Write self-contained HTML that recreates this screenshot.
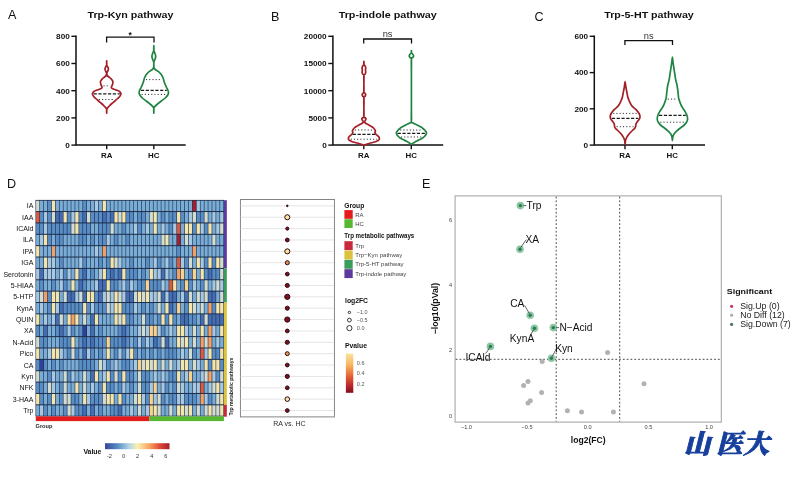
<!DOCTYPE html><html><head><meta charset="utf-8"><title>Trp pathways figure</title>
<style>html,body{margin:0;padding:0;background:#fff}body{width:800px;height:477px;overflow:hidden}svg{display:block;filter:blur(0.35px)}text{font-family:"Liberation Sans", sans-serif}</style></head><body>
<svg width="800" height="477" viewBox="0 0 800 477">
<rect width="800" height="477" fill="#fff"/>
<text x="8.00" y="18.60" font-size="12.60" text-anchor="start" font-weight="normal" fill="#111" >A</text>
<text x="87.50" y="17.6" font-size="9.9" font-weight="bold" fill="#111" textLength="86.00" lengthAdjust="spacingAndGlyphs">Trp-Kyn pathway</text>
<path d="M76.00 35.60 V145.10 H185.70" fill="none" stroke="#111" stroke-width="1.5"/>
<line x1="71.40" y1="36.30" x2="76.00" y2="36.30" stroke="#111" stroke-width="1.4"/>
<text x="0.00" y="39.20" font-size="7.9" font-weight="bold" text-anchor="end" fill="#111" transform="translate(69.80,0) scale(1.04,1) translate(0.00,0)">800</text>
<line x1="71.40" y1="63.50" x2="76.00" y2="63.50" stroke="#111" stroke-width="1.4"/>
<text x="0.00" y="66.40" font-size="7.9" font-weight="bold" text-anchor="end" fill="#111" transform="translate(69.80,0) scale(1.04,1) translate(0.00,0)">600</text>
<line x1="71.40" y1="90.70" x2="76.00" y2="90.70" stroke="#111" stroke-width="1.4"/>
<text x="0.00" y="93.60" font-size="7.9" font-weight="bold" text-anchor="end" fill="#111" transform="translate(69.80,0) scale(1.04,1) translate(0.00,0)">400</text>
<line x1="71.40" y1="117.90" x2="76.00" y2="117.90" stroke="#111" stroke-width="1.4"/>
<text x="0.00" y="120.80" font-size="7.9" font-weight="bold" text-anchor="end" fill="#111" transform="translate(69.80,0) scale(1.04,1) translate(0.00,0)">200</text>
<line x1="71.40" y1="145.10" x2="76.00" y2="145.10" stroke="#111" stroke-width="1.4"/>
<text x="0.00" y="148.00" font-size="7.9" font-weight="bold" text-anchor="end" fill="#111" transform="translate(69.80,0) scale(1.04,1) translate(0.00,0)">0</text>
<line x1="106.70" y1="145.10" x2="106.70" y2="149.30" stroke="#111" stroke-width="1.4"/>
<text x="106.70" y="158.30" font-size="7.90" text-anchor="middle" font-weight="bold" fill="#111" >RA</text>
<line x1="153.80" y1="145.10" x2="153.80" y2="149.30" stroke="#111" stroke-width="1.4"/>
<text x="153.80" y="158.30" font-size="7.90" text-anchor="middle" font-weight="bold" fill="#111" >HC</text>
<path d="M106.60 42.40 V37.10 H154.00 V42.40" fill="none" stroke="#111" stroke-width="1.3"/>
<text x="130.25" y="37.60" font-size="8.50" text-anchor="middle" font-weight="bold" fill="#111" >*</text>
<path d="M106.70 60.80 C106.70 60.80 106.52 63.97 106.70 65.00 C106.88 66.03 107.52 66.35 107.80 67.00 C108.08 67.65 108.40 68.23 108.40 68.90 C108.40 69.57 108.05 70.32 107.80 71.00 C107.55 71.68 107.00 72.25 106.90 73.00 C106.80 73.75 106.87 74.83 107.20 75.50 C107.53 76.17 108.25 76.45 108.90 77.00 C109.55 77.55 110.43 78.05 111.10 78.80 C111.77 79.55 112.67 80.55 112.90 81.50 C113.13 82.45 112.77 83.52 112.50 84.50 C112.23 85.48 111.27 86.68 111.30 87.40 C111.33 88.12 111.88 88.37 112.70 88.80 C113.52 89.23 115.07 89.55 116.20 90.00 C117.33 90.45 118.70 90.87 119.50 91.50 C120.30 92.13 120.93 93.02 121.00 93.80 C121.07 94.58 120.45 95.42 119.90 96.20 C119.35 96.98 118.53 97.70 117.70 98.50 C116.87 99.30 115.87 100.17 114.90 101.00 C113.93 101.83 112.83 102.67 111.90 103.50 C110.97 104.33 110.05 105.25 109.30 106.00 C108.55 106.75 107.83 107.33 107.40 108.00 C106.97 108.67 106.82 109.13 106.70 110.00 C106.58 110.87 106.70 113.20 106.70 113.20 C106.70 113.20 106.82 110.87 106.70 110.00 C106.58 109.13 106.43 108.67 106.00 108.00 C105.57 107.33 104.85 106.75 104.10 106.00 C103.35 105.25 102.43 104.33 101.50 103.50 C100.57 102.67 99.47 101.83 98.50 101.00 C97.53 100.17 96.53 99.30 95.70 98.50 C94.87 97.70 94.05 96.98 93.50 96.20 C92.95 95.42 92.33 94.58 92.40 93.80 C92.47 93.02 93.10 92.13 93.90 91.50 C94.70 90.87 96.07 90.45 97.20 90.00 C98.33 89.55 99.88 89.23 100.70 88.80 C101.52 88.37 102.07 88.12 102.10 87.40 C102.13 86.68 101.17 85.48 100.90 84.50 C100.63 83.52 100.27 82.45 100.50 81.50 C100.73 80.55 101.63 79.55 102.30 78.80 C102.97 78.05 103.85 77.55 104.50 77.00 C105.15 76.45 105.87 76.17 106.20 75.50 C106.53 74.83 106.60 73.75 106.50 73.00 C106.40 72.25 105.85 71.68 105.60 71.00 C105.35 70.32 105.00 69.57 105.00 68.90 C105.00 68.23 105.32 67.65 105.60 67.00 C105.88 66.35 106.52 66.03 106.70 65.00 C106.88 63.97 106.70 60.80 106.70 60.80Z" fill="#fff" stroke="#a31f27" stroke-width="1.70" stroke-linejoin="round"/>
<line x1="93.60" y1="93.80" x2="119.80" y2="93.80" stroke="#1a1a1a" stroke-width="1.3" stroke-dasharray="3.2 1.6"/>
<line x1="103.44" y1="85.80" x2="109.96" y2="85.80" stroke="#2a2a2a" stroke-width="1.0" stroke-dasharray="1.1 2.1"/>
<line x1="98.82" y1="99.50" x2="114.58" y2="99.50" stroke="#2a2a2a" stroke-width="1.0" stroke-dasharray="1.1 2.1"/>
<path d="M153.80 45.70 C153.80 45.70 153.60 49.20 153.80 50.50 C154.00 51.80 154.68 52.52 155.00 53.50 C155.32 54.48 155.70 55.43 155.70 56.40 C155.70 57.37 155.30 58.37 155.00 59.30 C154.70 60.23 154.10 60.88 153.90 62.00 C153.70 63.12 153.72 64.92 153.80 66.00 C153.88 67.08 154.03 67.83 154.40 68.50 C154.77 69.17 155.27 69.45 156.00 70.00 C156.73 70.55 157.92 71.05 158.80 71.80 C159.68 72.55 160.58 73.47 161.30 74.50 C162.02 75.53 162.55 76.58 163.10 78.00 C163.65 79.42 164.07 81.50 164.60 83.00 C165.13 84.50 165.77 85.83 166.30 87.00 C166.83 88.17 167.43 89.08 167.80 90.00 C168.17 90.92 168.50 91.67 168.50 92.50 C168.50 93.33 168.33 94.08 167.80 95.00 C167.27 95.92 166.37 97.00 165.30 98.00 C164.23 99.00 162.68 100.00 161.40 101.00 C160.12 102.00 158.70 103.08 157.60 104.00 C156.50 104.92 155.43 105.75 154.80 106.50 C154.17 107.25 153.97 107.38 153.80 108.50 C153.63 109.62 153.80 113.20 153.80 113.20 C153.80 113.20 153.97 109.62 153.80 108.50 C153.63 107.38 153.43 107.25 152.80 106.50 C152.17 105.75 151.10 104.92 150.00 104.00 C148.90 103.08 147.48 102.00 146.20 101.00 C144.92 100.00 143.37 99.00 142.30 98.00 C141.23 97.00 140.33 95.92 139.80 95.00 C139.27 94.08 139.10 93.33 139.10 92.50 C139.10 91.67 139.43 90.92 139.80 90.00 C140.17 89.08 140.77 88.17 141.30 87.00 C141.83 85.83 142.47 84.50 143.00 83.00 C143.53 81.50 143.95 79.42 144.50 78.00 C145.05 76.58 145.58 75.53 146.30 74.50 C147.02 73.47 147.92 72.55 148.80 71.80 C149.68 71.05 150.87 70.55 151.60 70.00 C152.33 69.45 152.83 69.17 153.20 68.50 C153.57 67.83 153.72 67.08 153.80 66.00 C153.88 64.92 153.90 63.12 153.70 62.00 C153.50 60.88 152.90 60.23 152.60 59.30 C152.30 58.37 151.90 57.37 151.90 56.40 C151.90 55.43 152.28 54.48 152.60 53.50 C152.92 52.52 153.60 51.80 153.80 50.50 C154.00 49.20 153.80 45.70 153.80 45.70Z" fill="#fff" stroke="#1f8442" stroke-width="1.70" stroke-linejoin="round"/>
<line x1="140.92" y1="90.30" x2="166.68" y2="90.30" stroke="#1a1a1a" stroke-width="1.3" stroke-dasharray="3.2 1.6"/>
<line x1="146.02" y1="79.60" x2="161.58" y2="79.60" stroke="#2a2a2a" stroke-width="1.0" stroke-dasharray="1.1 2.1"/>
<line x1="141.63" y1="94.40" x2="165.97" y2="94.40" stroke="#2a2a2a" stroke-width="1.0" stroke-dasharray="1.1 2.1"/>
<text x="271.00" y="21.00" font-size="12.60" text-anchor="start" font-weight="normal" fill="#111" >B</text>
<text x="338.70" y="17.6" font-size="9.9" font-weight="bold" fill="#111" textLength="98.10" lengthAdjust="spacingAndGlyphs">Trp-indole pathway</text>
<path d="M332.90 35.60 V145.10 H443.20" fill="none" stroke="#111" stroke-width="1.5"/>
<line x1="328.30" y1="36.30" x2="332.90" y2="36.30" stroke="#111" stroke-width="1.4"/>
<text x="0.00" y="39.20" font-size="7.9" font-weight="bold" text-anchor="end" fill="#111" transform="translate(326.70,0) scale(1.04,1) translate(0.00,0)">20000</text>
<line x1="328.30" y1="63.50" x2="332.90" y2="63.50" stroke="#111" stroke-width="1.4"/>
<text x="0.00" y="66.40" font-size="7.9" font-weight="bold" text-anchor="end" fill="#111" transform="translate(326.70,0) scale(1.04,1) translate(0.00,0)">15000</text>
<line x1="328.30" y1="90.70" x2="332.90" y2="90.70" stroke="#111" stroke-width="1.4"/>
<text x="0.00" y="93.60" font-size="7.9" font-weight="bold" text-anchor="end" fill="#111" transform="translate(326.70,0) scale(1.04,1) translate(0.00,0)">10000</text>
<line x1="328.30" y1="117.90" x2="332.90" y2="117.90" stroke="#111" stroke-width="1.4"/>
<text x="0.00" y="120.80" font-size="7.9" font-weight="bold" text-anchor="end" fill="#111" transform="translate(326.70,0) scale(1.04,1) translate(0.00,0)">5000</text>
<line x1="328.30" y1="145.10" x2="332.90" y2="145.10" stroke="#111" stroke-width="1.4"/>
<text x="0.00" y="148.00" font-size="7.9" font-weight="bold" text-anchor="end" fill="#111" transform="translate(326.70,0) scale(1.04,1) translate(0.00,0)">0</text>
<line x1="363.80" y1="145.10" x2="363.80" y2="149.30" stroke="#111" stroke-width="1.4"/>
<text x="363.80" y="158.30" font-size="7.90" text-anchor="middle" font-weight="bold" fill="#111" >RA</text>
<line x1="411.30" y1="145.10" x2="411.30" y2="149.30" stroke="#111" stroke-width="1.4"/>
<text x="411.30" y="158.30" font-size="7.90" text-anchor="middle" font-weight="bold" fill="#111" >HC</text>
<path d="M363.70 43.50 V39.00 H411.50 V43.50" fill="none" stroke="#111" stroke-width="1.3"/>
<text x="387.55" y="36.70" font-size="9.30" text-anchor="middle" font-weight="normal" fill="#333" >ns</text>
<path d="M363.90 61.40 C363.90 61.40 363.70 63.73 363.90 64.50 C364.10 65.27 364.80 65.50 365.10 66.00 C365.40 66.50 365.63 66.83 365.70 67.50 C365.77 68.17 365.50 69.17 365.50 70.00 C365.50 70.83 365.77 71.83 365.70 72.50 C365.63 73.17 365.40 73.50 365.10 74.00 C364.80 74.50 364.10 73.83 363.90 75.50 C363.70 77.17 363.90 81.25 363.90 84.00 C363.90 86.75 363.70 90.43 363.90 92.00 C364.10 93.57 364.80 92.93 365.10 93.40 C365.40 93.87 365.70 94.33 365.70 94.80 C365.70 95.27 365.40 95.73 365.10 96.20 C364.80 96.67 364.10 95.63 363.90 97.60 C363.70 99.57 363.90 104.83 363.90 108.00 C363.90 111.17 363.68 115.00 363.90 116.60 C364.12 118.20 364.85 117.22 365.20 117.60 C365.55 117.98 365.97 118.45 366.00 118.90 C366.03 119.35 365.63 119.85 365.40 120.30 C365.17 120.75 364.65 121.18 364.60 121.60 C364.55 122.02 364.68 122.40 365.10 122.80 C365.52 123.20 366.47 123.63 367.10 124.00 C367.73 124.37 368.17 124.58 368.90 125.00 C369.63 125.42 370.73 126.00 371.50 126.50 C372.27 127.00 372.97 127.50 373.50 128.00 C374.03 128.50 374.38 129.00 374.70 129.50 C375.02 130.00 375.35 130.42 375.40 131.00 C375.45 131.58 374.78 132.33 375.00 133.00 C375.22 133.67 376.12 134.42 376.70 135.00 C377.28 135.58 378.05 136.00 378.50 136.50 C378.95 137.00 379.35 137.42 379.40 138.00 C379.45 138.58 379.25 139.47 378.80 140.00 C378.35 140.53 377.55 140.83 376.70 141.20 C375.85 141.57 374.83 141.87 373.70 142.20 C372.57 142.53 371.10 142.87 369.90 143.20 C368.70 143.53 367.50 143.88 366.50 144.20 C365.50 144.52 364.77 145.10 363.90 145.10 C363.03 145.10 362.30 144.52 361.30 144.20 C360.30 143.88 359.10 143.53 357.90 143.20 C356.70 142.87 355.23 142.53 354.10 142.20 C352.97 141.87 351.95 141.57 351.10 141.20 C350.25 140.83 349.45 140.53 349.00 140.00 C348.55 139.47 348.35 138.58 348.40 138.00 C348.45 137.42 348.85 137.00 349.30 136.50 C349.75 136.00 350.52 135.58 351.10 135.00 C351.68 134.42 352.58 133.67 352.80 133.00 C353.02 132.33 352.35 131.58 352.40 131.00 C352.45 130.42 352.78 130.00 353.10 129.50 C353.42 129.00 353.77 128.50 354.30 128.00 C354.83 127.50 355.53 127.00 356.30 126.50 C357.07 126.00 358.17 125.42 358.90 125.00 C359.63 124.58 360.07 124.37 360.70 124.00 C361.33 123.63 362.28 123.20 362.70 122.80 C363.12 122.40 363.25 122.02 363.20 121.60 C363.15 121.18 362.63 120.75 362.40 120.30 C362.17 119.85 361.77 119.35 361.80 118.90 C361.83 118.45 362.25 117.98 362.60 117.60 C362.95 117.22 363.68 118.20 363.90 116.60 C364.12 115.00 363.90 111.17 363.90 108.00 C363.90 104.83 364.10 99.57 363.90 97.60 C363.70 95.63 363.00 96.67 362.70 96.20 C362.40 95.73 362.10 95.27 362.10 94.80 C362.10 94.33 362.40 93.87 362.70 93.40 C363.00 92.93 363.70 93.57 363.90 92.00 C364.10 90.43 363.90 86.75 363.90 84.00 C363.90 81.25 364.10 77.17 363.90 75.50 C363.70 73.83 363.00 74.50 362.70 74.00 C362.40 73.50 362.17 73.17 362.10 72.50 C362.03 71.83 362.30 70.83 362.30 70.00 C362.30 69.17 362.03 68.17 362.10 67.50 C362.17 66.83 362.40 66.50 362.70 66.00 C363.00 65.50 363.70 65.27 363.90 64.50 C364.10 63.73 363.90 61.40 363.90 61.40Z" fill="#fff" stroke="#a31f27" stroke-width="1.70" stroke-linejoin="round"/>
<line x1="352.81" y1="134.40" x2="374.99" y2="134.40" stroke="#1a1a1a" stroke-width="1.3" stroke-dasharray="3.2 1.6"/>
<line x1="354.87" y1="130.00" x2="372.93" y2="130.00" stroke="#2a2a2a" stroke-width="1.0" stroke-dasharray="1.1 2.1"/>
<line x1="350.76" y1="139.20" x2="377.04" y2="139.20" stroke="#2a2a2a" stroke-width="1.0" stroke-dasharray="1.1 2.1"/>
<path d="M411.40 50.60 C411.40 50.60 411.17 52.20 411.40 52.80 C411.63 53.40 412.43 53.68 412.80 54.20 C413.17 54.72 413.60 55.33 413.60 55.90 C413.60 56.47 413.17 57.08 412.80 57.60 C412.43 58.12 411.63 56.93 411.40 59.00 C411.17 61.07 411.40 64.83 411.40 70.00 C411.40 75.17 411.40 83.33 411.40 90.00 C411.40 96.67 411.40 104.78 411.40 110.00 C411.40 115.22 411.13 119.13 411.40 121.30 C411.67 123.47 412.08 122.38 413.00 123.00 C413.92 123.62 415.58 124.33 416.90 125.00 C418.22 125.67 419.88 126.42 420.90 127.00 C421.92 127.58 422.38 128.00 423.00 128.50 C423.62 129.00 424.13 129.50 424.60 130.00 C425.07 130.50 425.48 131.00 425.80 131.50 C426.12 132.00 426.52 132.42 426.50 133.00 C426.48 133.58 426.05 134.42 425.70 135.00 C425.35 135.58 424.92 136.00 424.40 136.50 C423.88 137.00 423.35 137.50 422.60 138.00 C421.85 138.50 420.85 139.00 419.90 139.50 C418.95 140.00 417.78 140.55 416.90 141.00 C416.02 141.45 415.25 141.83 414.60 142.20 C413.95 142.57 413.53 142.85 413.00 143.20 C412.47 143.55 411.93 144.30 411.40 144.30 C410.87 144.30 410.33 143.55 409.80 143.20 C409.27 142.85 408.85 142.57 408.20 142.20 C407.55 141.83 406.78 141.45 405.90 141.00 C405.02 140.55 403.85 140.00 402.90 139.50 C401.95 139.00 400.95 138.50 400.20 138.00 C399.45 137.50 398.92 137.00 398.40 136.50 C397.88 136.00 397.45 135.58 397.10 135.00 C396.75 134.42 396.32 133.58 396.30 133.00 C396.28 132.42 396.68 132.00 397.00 131.50 C397.32 131.00 397.73 130.50 398.20 130.00 C398.67 129.50 399.18 129.00 399.80 128.50 C400.42 128.00 400.88 127.58 401.90 127.00 C402.92 126.42 404.58 125.67 405.90 125.00 C407.22 124.33 408.88 123.62 409.80 123.00 C410.72 122.38 411.13 123.47 411.40 121.30 C411.67 119.13 411.40 115.22 411.40 110.00 C411.40 104.78 411.40 96.67 411.40 90.00 C411.40 83.33 411.40 75.17 411.40 70.00 C411.40 64.83 411.63 61.07 411.40 59.00 C411.17 56.93 410.37 58.12 410.00 57.60 C409.63 57.08 409.20 56.47 409.20 55.90 C409.20 55.33 409.63 54.72 410.00 54.20 C410.37 53.68 411.17 53.40 411.40 52.80 C411.63 52.20 411.40 50.60 411.40 50.60Z" fill="#fff" stroke="#1f8442" stroke-width="1.70" stroke-linejoin="round"/>
<line x1="397.66" y1="133.40" x2="425.14" y2="133.40" stroke="#1a1a1a" stroke-width="1.3" stroke-dasharray="3.2 1.6"/>
<line x1="400.20" y1="130.00" x2="422.60" y2="130.00" stroke="#2a2a2a" stroke-width="1.0" stroke-dasharray="1.1 2.1"/>
<line x1="401.00" y1="137.00" x2="421.80" y2="137.00" stroke="#2a2a2a" stroke-width="1.0" stroke-dasharray="1.1 2.1"/>
<text x="534.50" y="21.00" font-size="12.60" text-anchor="start" font-weight="normal" fill="#111" >C</text>
<text x="604.30" y="17.6" font-size="9.9" font-weight="bold" fill="#111" textLength="89.50" lengthAdjust="spacingAndGlyphs">Trp-5-HT pathway</text>
<path d="M594.30 35.60 V145.10 H705.00" fill="none" stroke="#111" stroke-width="1.5"/>
<line x1="589.70" y1="36.30" x2="594.30" y2="36.30" stroke="#111" stroke-width="1.4"/>
<text x="0.00" y="39.20" font-size="7.9" font-weight="bold" text-anchor="end" fill="#111" transform="translate(588.10,0) scale(1.04,1) translate(0.00,0)">600</text>
<line x1="589.70" y1="72.60" x2="594.30" y2="72.60" stroke="#111" stroke-width="1.4"/>
<text x="0.00" y="75.50" font-size="7.9" font-weight="bold" text-anchor="end" fill="#111" transform="translate(588.10,0) scale(1.04,1) translate(0.00,0)">400</text>
<line x1="589.70" y1="108.80" x2="594.30" y2="108.80" stroke="#111" stroke-width="1.4"/>
<text x="0.00" y="111.70" font-size="7.9" font-weight="bold" text-anchor="end" fill="#111" transform="translate(588.10,0) scale(1.04,1) translate(0.00,0)">200</text>
<line x1="589.70" y1="145.10" x2="594.30" y2="145.10" stroke="#111" stroke-width="1.4"/>
<text x="0.00" y="148.00" font-size="7.9" font-weight="bold" text-anchor="end" fill="#111" transform="translate(588.10,0) scale(1.04,1) translate(0.00,0)">0</text>
<line x1="625.00" y1="145.10" x2="625.00" y2="149.30" stroke="#111" stroke-width="1.4"/>
<text x="625.00" y="158.30" font-size="7.90" text-anchor="middle" font-weight="bold" fill="#111" >RA</text>
<line x1="672.30" y1="145.10" x2="672.30" y2="149.30" stroke="#111" stroke-width="1.4"/>
<text x="672.30" y="158.30" font-size="7.90" text-anchor="middle" font-weight="bold" fill="#111" >HC</text>
<path d="M624.90 45.00 V40.60 H672.50 V45.00" fill="none" stroke="#111" stroke-width="1.3"/>
<text x="648.65" y="38.50" font-size="9.30" text-anchor="middle" font-weight="normal" fill="#333" >ns</text>
<path d="M625.10 81.50 C625.30 81.50 625.47 84.53 625.70 86.00 C625.93 87.47 626.25 88.97 626.50 90.30 C626.75 91.63 626.95 92.75 627.20 94.00 C627.45 95.25 627.62 96.55 628.00 97.80 C628.38 99.05 628.90 100.23 629.50 101.50 C630.10 102.77 630.83 104.32 631.60 105.40 C632.37 106.48 633.25 107.17 634.10 108.00 C634.95 108.83 635.87 109.48 636.70 110.40 C637.53 111.32 638.55 112.45 639.10 113.50 C639.65 114.55 639.97 115.75 640.00 116.70 C640.03 117.65 639.75 118.37 639.30 119.20 C638.85 120.03 637.87 120.87 637.30 121.70 C636.73 122.53 636.18 123.37 635.90 124.20 C635.62 125.03 635.83 125.97 635.60 126.70 C635.37 127.43 635.03 127.97 634.50 128.60 C633.97 129.23 633.17 129.77 632.40 130.50 C631.63 131.23 630.65 132.17 629.90 133.00 C629.15 133.83 628.48 134.67 627.90 135.50 C627.32 136.33 626.80 137.15 626.40 138.00 C626.00 138.85 625.72 139.50 625.50 140.60 C625.28 141.70 625.23 144.60 625.10 144.60 C624.97 144.60 624.92 141.70 624.70 140.60 C624.48 139.50 624.20 138.85 623.80 138.00 C623.40 137.15 622.88 136.33 622.30 135.50 C621.72 134.67 621.05 133.83 620.30 133.00 C619.55 132.17 618.57 131.23 617.80 130.50 C617.03 129.77 616.23 129.23 615.70 128.60 C615.17 127.97 614.83 127.43 614.60 126.70 C614.37 125.97 614.58 125.03 614.30 124.20 C614.02 123.37 613.47 122.53 612.90 121.70 C612.33 120.87 611.35 120.03 610.90 119.20 C610.45 118.37 610.17 117.65 610.20 116.70 C610.23 115.75 610.55 114.55 611.10 113.50 C611.65 112.45 612.67 111.32 613.50 110.40 C614.33 109.48 615.25 108.83 616.10 108.00 C616.95 107.17 617.83 106.48 618.60 105.40 C619.37 104.32 620.10 102.77 620.70 101.50 C621.30 100.23 621.82 99.05 622.20 97.80 C622.58 96.55 622.75 95.25 623.00 94.00 C623.25 92.75 623.45 91.63 623.70 90.30 C623.95 88.97 624.27 87.47 624.50 86.00 C624.73 84.53 624.90 81.50 625.10 81.50Z" fill="#fff" stroke="#a31f27" stroke-width="1.70" stroke-linejoin="round"/>
<line x1="611.88" y1="118.40" x2="638.32" y2="118.40" stroke="#1a1a1a" stroke-width="1.3" stroke-dasharray="3.2 1.6"/>
<line x1="613.18" y1="113.40" x2="637.02" y2="113.40" stroke="#2a2a2a" stroke-width="1.0" stroke-dasharray="1.1 2.1"/>
<line x1="616.60" y1="126.70" x2="633.60" y2="126.70" stroke="#2a2a2a" stroke-width="1.0" stroke-dasharray="1.1 2.1"/>
<path d="M672.40 57.10 C672.60 57.10 672.77 60.23 673.00 62.00 C673.23 63.77 673.50 65.70 673.80 67.70 C674.10 69.70 674.47 71.90 674.80 74.00 C675.13 76.10 675.43 78.47 675.80 80.30 C676.17 82.13 676.67 83.33 677.00 85.00 C677.33 86.67 677.60 88.80 677.80 90.30 C678.00 91.80 678.07 92.75 678.20 94.00 C678.33 95.25 678.35 96.55 678.60 97.80 C678.85 99.05 679.27 100.23 679.70 101.50 C680.13 102.77 680.65 104.23 681.20 105.40 C681.75 106.57 682.35 107.45 683.00 108.50 C683.65 109.55 684.43 110.53 685.10 111.70 C685.77 112.87 686.58 114.25 687.00 115.50 C687.42 116.75 687.70 118.03 687.60 119.20 C687.50 120.37 687.05 121.45 686.40 122.50 C685.75 123.55 684.70 124.58 683.70 125.50 C682.70 126.42 681.45 127.17 680.40 128.00 C679.35 128.83 678.27 129.75 677.40 130.50 C676.53 131.25 675.80 131.87 675.20 132.50 C674.60 133.13 674.20 133.55 673.80 134.30 C673.40 135.05 673.03 135.95 672.80 137.00 C672.57 138.05 672.53 140.60 672.40 140.60 C672.27 140.60 672.23 138.05 672.00 137.00 C671.77 135.95 671.40 135.05 671.00 134.30 C670.60 133.55 670.20 133.13 669.60 132.50 C669.00 131.87 668.27 131.25 667.40 130.50 C666.53 129.75 665.45 128.83 664.40 128.00 C663.35 127.17 662.10 126.42 661.10 125.50 C660.10 124.58 659.05 123.55 658.40 122.50 C657.75 121.45 657.30 120.37 657.20 119.20 C657.10 118.03 657.38 116.75 657.80 115.50 C658.22 114.25 659.03 112.87 659.70 111.70 C660.37 110.53 661.15 109.55 661.80 108.50 C662.45 107.45 663.05 106.57 663.60 105.40 C664.15 104.23 664.67 102.77 665.10 101.50 C665.53 100.23 665.95 99.05 666.20 97.80 C666.45 96.55 666.47 95.25 666.60 94.00 C666.73 92.75 666.80 91.80 667.00 90.30 C667.20 88.80 667.47 86.67 667.80 85.00 C668.13 83.33 668.63 82.13 669.00 80.30 C669.37 78.47 669.67 76.10 670.00 74.00 C670.33 71.90 670.70 69.70 671.00 67.70 C671.30 65.70 671.57 63.77 671.80 62.00 C672.03 60.23 672.20 57.10 672.40 57.10Z" fill="#fff" stroke="#1f8442" stroke-width="1.70" stroke-linejoin="round"/>
<line x1="659.05" y1="115.40" x2="685.75" y2="115.40" stroke="#1a1a1a" stroke-width="1.3" stroke-dasharray="3.2 1.6"/>
<line x1="667.81" y1="99.10" x2="676.99" y2="99.10" stroke="#2a2a2a" stroke-width="1.0" stroke-dasharray="1.1 2.1"/>
<line x1="660.29" y1="122.20" x2="684.51" y2="122.20" stroke="#2a2a2a" stroke-width="1.0" stroke-dasharray="1.1 2.1"/>
<text x="7.00" y="188.00" font-size="12.60" text-anchor="start" font-weight="normal" fill="#111" >D</text>
<rect x="35.50" y="199.90" width="188.52" height="216.60" fill="#1d2d4a"/>
<text x="33.40" y="208.38" font-size="7.00" text-anchor="end" font-weight="normal" fill="#111" >IA</text>
<rect x="36.10" y="200.70" width="3.31" height="10.37" fill="#d2dccf"/>
<rect x="40.01" y="200.70" width="3.31" height="10.37" fill="#7aadd6"/>
<rect x="43.93" y="200.70" width="3.31" height="10.37" fill="#7aadd6"/>
<rect x="47.84" y="200.70" width="3.31" height="10.37" fill="#588dc5"/>
<rect x="51.76" y="200.70" width="3.31" height="10.37" fill="#f4e5aa"/>
<rect x="55.67" y="200.70" width="3.31" height="10.37" fill="#7aadd6"/>
<rect x="59.59" y="200.70" width="3.31" height="10.37" fill="#7aadd6"/>
<rect x="63.50" y="200.70" width="3.31" height="10.37" fill="#7aadd6"/>
<rect x="67.42" y="200.70" width="3.31" height="10.37" fill="#7aadd6"/>
<rect x="71.33" y="200.70" width="3.31" height="10.37" fill="#7aadd6"/>
<rect x="75.25" y="200.70" width="3.31" height="10.37" fill="#7aadd6"/>
<rect x="79.16" y="200.70" width="3.31" height="10.37" fill="#7aadd6"/>
<rect x="83.08" y="200.70" width="3.31" height="10.37" fill="#588dc5"/>
<rect x="86.99" y="200.70" width="3.31" height="10.37" fill="#7aadd6"/>
<rect x="90.91" y="200.70" width="3.31" height="10.37" fill="#7aadd6"/>
<rect x="94.83" y="200.70" width="3.31" height="10.37" fill="#a6c8e1"/>
<rect x="98.74" y="200.70" width="3.31" height="10.37" fill="#7aadd6"/>
<rect x="102.66" y="200.70" width="3.31" height="10.37" fill="#f4e5aa"/>
<rect x="106.57" y="200.70" width="3.31" height="10.37" fill="#7aadd6"/>
<rect x="110.48" y="200.70" width="3.31" height="10.37" fill="#7aadd6"/>
<rect x="114.40" y="200.70" width="3.31" height="10.37" fill="#7aadd6"/>
<rect x="118.31" y="200.70" width="3.31" height="10.37" fill="#7aadd6"/>
<rect x="122.23" y="200.70" width="3.31" height="10.37" fill="#7aadd6"/>
<rect x="126.14" y="200.70" width="3.31" height="10.37" fill="#7aadd6"/>
<rect x="130.06" y="200.70" width="3.31" height="10.37" fill="#7aadd6"/>
<rect x="133.98" y="200.70" width="3.31" height="10.37" fill="#7aadd6"/>
<rect x="137.89" y="200.70" width="3.31" height="10.37" fill="#7aadd6"/>
<rect x="141.81" y="200.70" width="3.31" height="10.37" fill="#7aadd6"/>
<rect x="145.72" y="200.70" width="3.31" height="10.37" fill="#7aadd6"/>
<rect x="149.63" y="200.70" width="3.31" height="10.37" fill="#7aadd6"/>
<rect x="153.55" y="200.70" width="3.31" height="10.37" fill="#7aadd6"/>
<rect x="157.47" y="200.70" width="3.31" height="10.37" fill="#7aadd6"/>
<rect x="161.38" y="200.70" width="3.31" height="10.37" fill="#7aadd6"/>
<rect x="165.30" y="200.70" width="3.31" height="10.37" fill="#7aadd6"/>
<rect x="169.21" y="200.70" width="3.31" height="10.37" fill="#7aadd6"/>
<rect x="173.12" y="200.70" width="3.31" height="10.37" fill="#7aadd6"/>
<rect x="177.04" y="200.70" width="3.31" height="10.37" fill="#7aadd6"/>
<rect x="180.95" y="200.70" width="3.31" height="10.37" fill="#7aadd6"/>
<rect x="184.87" y="200.70" width="3.31" height="10.37" fill="#7aadd6"/>
<rect x="188.79" y="200.70" width="3.31" height="10.37" fill="#7aadd6"/>
<rect x="192.70" y="200.70" width="3.31" height="10.37" fill="#a51e2e"/>
<rect x="196.62" y="200.70" width="3.31" height="10.37" fill="#a6c8e1"/>
<rect x="200.53" y="200.70" width="3.31" height="10.37" fill="#7aadd6"/>
<rect x="204.44" y="200.70" width="3.31" height="10.37" fill="#7aadd6"/>
<rect x="208.36" y="200.70" width="3.31" height="10.37" fill="#7aadd6"/>
<rect x="212.28" y="200.70" width="3.31" height="10.37" fill="#7aadd6"/>
<rect x="216.19" y="200.70" width="3.31" height="10.37" fill="#7aadd6"/>
<rect x="220.11" y="200.70" width="3.31" height="10.37" fill="#7aadd6"/>
<text x="33.40" y="219.75" font-size="7.00" text-anchor="end" font-weight="normal" fill="#111" >IAA</text>
<rect x="36.10" y="212.07" width="3.31" height="10.37" fill="#dc5a3e"/>
<rect x="40.01" y="212.07" width="3.31" height="10.37" fill="#588dc5"/>
<rect x="43.93" y="212.07" width="3.31" height="10.37" fill="#a6c8e1"/>
<rect x="47.84" y="212.07" width="3.31" height="10.37" fill="#588dc5"/>
<rect x="51.76" y="212.07" width="3.31" height="10.37" fill="#d2dccf"/>
<rect x="55.67" y="212.07" width="3.31" height="10.37" fill="#456db4"/>
<rect x="59.59" y="212.07" width="3.31" height="10.37" fill="#456db4"/>
<rect x="63.50" y="212.07" width="3.31" height="10.37" fill="#f4e5aa"/>
<rect x="67.42" y="212.07" width="3.31" height="10.37" fill="#588dc5"/>
<rect x="71.33" y="212.07" width="3.31" height="10.37" fill="#a6c8e1"/>
<rect x="75.25" y="212.07" width="3.31" height="10.37" fill="#f4e5aa"/>
<rect x="79.16" y="212.07" width="3.31" height="10.37" fill="#588dc5"/>
<rect x="83.08" y="212.07" width="3.31" height="10.37" fill="#456db4"/>
<rect x="86.99" y="212.07" width="3.31" height="10.37" fill="#d2dccf"/>
<rect x="90.91" y="212.07" width="3.31" height="10.37" fill="#588dc5"/>
<rect x="94.83" y="212.07" width="3.31" height="10.37" fill="#588dc5"/>
<rect x="98.74" y="212.07" width="3.31" height="10.37" fill="#588dc5"/>
<rect x="102.66" y="212.07" width="3.31" height="10.37" fill="#456db4"/>
<rect x="106.57" y="212.07" width="3.31" height="10.37" fill="#588dc5"/>
<rect x="110.48" y="212.07" width="3.31" height="10.37" fill="#456db4"/>
<rect x="114.40" y="212.07" width="3.31" height="10.37" fill="#f4e5aa"/>
<rect x="118.31" y="212.07" width="3.31" height="10.37" fill="#d2dccf"/>
<rect x="122.23" y="212.07" width="3.31" height="10.37" fill="#f4e5aa"/>
<rect x="126.14" y="212.07" width="3.31" height="10.37" fill="#588dc5"/>
<rect x="130.06" y="212.07" width="3.31" height="10.37" fill="#588dc5"/>
<rect x="133.98" y="212.07" width="3.31" height="10.37" fill="#7aadd6"/>
<rect x="137.89" y="212.07" width="3.31" height="10.37" fill="#588dc5"/>
<rect x="141.81" y="212.07" width="3.31" height="10.37" fill="#588dc5"/>
<rect x="145.72" y="212.07" width="3.31" height="10.37" fill="#7aadd6"/>
<rect x="149.63" y="212.07" width="3.31" height="10.37" fill="#d2dccf"/>
<rect x="153.55" y="212.07" width="3.31" height="10.37" fill="#f4e5aa"/>
<rect x="157.47" y="212.07" width="3.31" height="10.37" fill="#7aadd6"/>
<rect x="161.38" y="212.07" width="3.31" height="10.37" fill="#588dc5"/>
<rect x="165.30" y="212.07" width="3.31" height="10.37" fill="#7aadd6"/>
<rect x="169.21" y="212.07" width="3.31" height="10.37" fill="#588dc5"/>
<rect x="173.12" y="212.07" width="3.31" height="10.37" fill="#588dc5"/>
<rect x="177.04" y="212.07" width="3.31" height="10.37" fill="#f4e5aa"/>
<rect x="180.95" y="212.07" width="3.31" height="10.37" fill="#588dc5"/>
<rect x="184.87" y="212.07" width="3.31" height="10.37" fill="#7aadd6"/>
<rect x="188.79" y="212.07" width="3.31" height="10.37" fill="#a6c8e1"/>
<rect x="192.70" y="212.07" width="3.31" height="10.37" fill="#d2dccf"/>
<rect x="196.62" y="212.07" width="3.31" height="10.37" fill="#588dc5"/>
<rect x="200.53" y="212.07" width="3.31" height="10.37" fill="#588dc5"/>
<rect x="204.44" y="212.07" width="3.31" height="10.37" fill="#d2dccf"/>
<rect x="208.36" y="212.07" width="3.31" height="10.37" fill="#7aadd6"/>
<rect x="212.28" y="212.07" width="3.31" height="10.37" fill="#a6c8e1"/>
<rect x="216.19" y="212.07" width="3.31" height="10.37" fill="#7aadd6"/>
<rect x="220.11" y="212.07" width="3.31" height="10.37" fill="#a6c8e1"/>
<text x="33.40" y="231.12" font-size="7.00" text-anchor="end" font-weight="normal" fill="#111" >ICAld</text>
<rect x="36.10" y="223.44" width="3.31" height="10.37" fill="#588dc5"/>
<rect x="40.01" y="223.44" width="3.31" height="10.37" fill="#588dc5"/>
<rect x="43.93" y="223.44" width="3.31" height="10.37" fill="#a6c8e1"/>
<rect x="47.84" y="223.44" width="3.31" height="10.37" fill="#588dc5"/>
<rect x="51.76" y="223.44" width="3.31" height="10.37" fill="#588dc5"/>
<rect x="55.67" y="223.44" width="3.31" height="10.37" fill="#588dc5"/>
<rect x="59.59" y="223.44" width="3.31" height="10.37" fill="#588dc5"/>
<rect x="63.50" y="223.44" width="3.31" height="10.37" fill="#588dc5"/>
<rect x="67.42" y="223.44" width="3.31" height="10.37" fill="#588dc5"/>
<rect x="71.33" y="223.44" width="3.31" height="10.37" fill="#d2dccf"/>
<rect x="75.25" y="223.44" width="3.31" height="10.37" fill="#f4e5aa"/>
<rect x="79.16" y="223.44" width="3.31" height="10.37" fill="#588dc5"/>
<rect x="83.08" y="223.44" width="3.31" height="10.37" fill="#588dc5"/>
<rect x="86.99" y="223.44" width="3.31" height="10.37" fill="#588dc5"/>
<rect x="90.91" y="223.44" width="3.31" height="10.37" fill="#7aadd6"/>
<rect x="94.83" y="223.44" width="3.31" height="10.37" fill="#7aadd6"/>
<rect x="98.74" y="223.44" width="3.31" height="10.37" fill="#588dc5"/>
<rect x="102.66" y="223.44" width="3.31" height="10.37" fill="#588dc5"/>
<rect x="106.57" y="223.44" width="3.31" height="10.37" fill="#588dc5"/>
<rect x="110.48" y="223.44" width="3.31" height="10.37" fill="#d2dccf"/>
<rect x="114.40" y="223.44" width="3.31" height="10.37" fill="#7aadd6"/>
<rect x="118.31" y="223.44" width="3.31" height="10.37" fill="#7aadd6"/>
<rect x="122.23" y="223.44" width="3.31" height="10.37" fill="#588dc5"/>
<rect x="126.14" y="223.44" width="3.31" height="10.37" fill="#7aadd6"/>
<rect x="130.06" y="223.44" width="3.31" height="10.37" fill="#7aadd6"/>
<rect x="133.98" y="223.44" width="3.31" height="10.37" fill="#a6c8e1"/>
<rect x="137.89" y="223.44" width="3.31" height="10.37" fill="#588dc5"/>
<rect x="141.81" y="223.44" width="3.31" height="10.37" fill="#7aadd6"/>
<rect x="145.72" y="223.44" width="3.31" height="10.37" fill="#a6c8e1"/>
<rect x="149.63" y="223.44" width="3.31" height="10.37" fill="#7aadd6"/>
<rect x="153.55" y="223.44" width="3.31" height="10.37" fill="#f4e5aa"/>
<rect x="157.47" y="223.44" width="3.31" height="10.37" fill="#7aadd6"/>
<rect x="161.38" y="223.44" width="3.31" height="10.37" fill="#a6c8e1"/>
<rect x="165.30" y="223.44" width="3.31" height="10.37" fill="#7aadd6"/>
<rect x="169.21" y="223.44" width="3.31" height="10.37" fill="#588dc5"/>
<rect x="173.12" y="223.44" width="3.31" height="10.37" fill="#a6c8e1"/>
<rect x="177.04" y="223.44" width="3.31" height="10.37" fill="#dc5a3e"/>
<rect x="180.95" y="223.44" width="3.31" height="10.37" fill="#7aadd6"/>
<rect x="184.87" y="223.44" width="3.31" height="10.37" fill="#f4e5aa"/>
<rect x="188.79" y="223.44" width="3.31" height="10.37" fill="#f4e5aa"/>
<rect x="192.70" y="223.44" width="3.31" height="10.37" fill="#588dc5"/>
<rect x="196.62" y="223.44" width="3.31" height="10.37" fill="#f4e5aa"/>
<rect x="200.53" y="223.44" width="3.31" height="10.37" fill="#a6c8e1"/>
<rect x="204.44" y="223.44" width="3.31" height="10.37" fill="#588dc5"/>
<rect x="208.36" y="223.44" width="3.31" height="10.37" fill="#f4e5aa"/>
<rect x="212.28" y="223.44" width="3.31" height="10.37" fill="#7aadd6"/>
<rect x="216.19" y="223.44" width="3.31" height="10.37" fill="#a6c8e1"/>
<rect x="220.11" y="223.44" width="3.31" height="10.37" fill="#d2dccf"/>
<text x="33.40" y="242.49" font-size="7.00" text-anchor="end" font-weight="normal" fill="#111" >ILA</text>
<rect x="36.10" y="234.81" width="3.31" height="10.37" fill="#7aadd6"/>
<rect x="40.01" y="234.81" width="3.31" height="10.37" fill="#a6c8e1"/>
<rect x="43.93" y="234.81" width="3.31" height="10.37" fill="#f4e5aa"/>
<rect x="47.84" y="234.81" width="3.31" height="10.37" fill="#588dc5"/>
<rect x="51.76" y="234.81" width="3.31" height="10.37" fill="#7aadd6"/>
<rect x="55.67" y="234.81" width="3.31" height="10.37" fill="#588dc5"/>
<rect x="59.59" y="234.81" width="3.31" height="10.37" fill="#588dc5"/>
<rect x="63.50" y="234.81" width="3.31" height="10.37" fill="#7aadd6"/>
<rect x="67.42" y="234.81" width="3.31" height="10.37" fill="#7aadd6"/>
<rect x="71.33" y="234.81" width="3.31" height="10.37" fill="#7aadd6"/>
<rect x="75.25" y="234.81" width="3.31" height="10.37" fill="#7aadd6"/>
<rect x="79.16" y="234.81" width="3.31" height="10.37" fill="#588dc5"/>
<rect x="83.08" y="234.81" width="3.31" height="10.37" fill="#588dc5"/>
<rect x="86.99" y="234.81" width="3.31" height="10.37" fill="#7aadd6"/>
<rect x="90.91" y="234.81" width="3.31" height="10.37" fill="#588dc5"/>
<rect x="94.83" y="234.81" width="3.31" height="10.37" fill="#7aadd6"/>
<rect x="98.74" y="234.81" width="3.31" height="10.37" fill="#588dc5"/>
<rect x="102.66" y="234.81" width="3.31" height="10.37" fill="#588dc5"/>
<rect x="106.57" y="234.81" width="3.31" height="10.37" fill="#a6c8e1"/>
<rect x="110.48" y="234.81" width="3.31" height="10.37" fill="#7aadd6"/>
<rect x="114.40" y="234.81" width="3.31" height="10.37" fill="#588dc5"/>
<rect x="118.31" y="234.81" width="3.31" height="10.37" fill="#7aadd6"/>
<rect x="122.23" y="234.81" width="3.31" height="10.37" fill="#7aadd6"/>
<rect x="126.14" y="234.81" width="3.31" height="10.37" fill="#588dc5"/>
<rect x="130.06" y="234.81" width="3.31" height="10.37" fill="#7aadd6"/>
<rect x="133.98" y="234.81" width="3.31" height="10.37" fill="#7aadd6"/>
<rect x="137.89" y="234.81" width="3.31" height="10.37" fill="#7aadd6"/>
<rect x="141.81" y="234.81" width="3.31" height="10.37" fill="#7aadd6"/>
<rect x="145.72" y="234.81" width="3.31" height="10.37" fill="#7aadd6"/>
<rect x="149.63" y="234.81" width="3.31" height="10.37" fill="#7aadd6"/>
<rect x="153.55" y="234.81" width="3.31" height="10.37" fill="#7aadd6"/>
<rect x="157.47" y="234.81" width="3.31" height="10.37" fill="#7aadd6"/>
<rect x="161.38" y="234.81" width="3.31" height="10.37" fill="#d2dccf"/>
<rect x="165.30" y="234.81" width="3.31" height="10.37" fill="#f4e5aa"/>
<rect x="169.21" y="234.81" width="3.31" height="10.37" fill="#7aadd6"/>
<rect x="173.12" y="234.81" width="3.31" height="10.37" fill="#7aadd6"/>
<rect x="177.04" y="234.81" width="3.31" height="10.37" fill="#a51e2e"/>
<rect x="180.95" y="234.81" width="3.31" height="10.37" fill="#7aadd6"/>
<rect x="184.87" y="234.81" width="3.31" height="10.37" fill="#d2dccf"/>
<rect x="188.79" y="234.81" width="3.31" height="10.37" fill="#a6c8e1"/>
<rect x="192.70" y="234.81" width="3.31" height="10.37" fill="#7aadd6"/>
<rect x="196.62" y="234.81" width="3.31" height="10.37" fill="#7aadd6"/>
<rect x="200.53" y="234.81" width="3.31" height="10.37" fill="#7aadd6"/>
<rect x="204.44" y="234.81" width="3.31" height="10.37" fill="#7aadd6"/>
<rect x="208.36" y="234.81" width="3.31" height="10.37" fill="#7aadd6"/>
<rect x="212.28" y="234.81" width="3.31" height="10.37" fill="#d2dccf"/>
<rect x="216.19" y="234.81" width="3.31" height="10.37" fill="#7aadd6"/>
<rect x="220.11" y="234.81" width="3.31" height="10.37" fill="#7aadd6"/>
<text x="33.40" y="253.86" font-size="7.00" text-anchor="end" font-weight="normal" fill="#111" >IPA</text>
<rect x="36.10" y="246.17" width="3.31" height="10.37" fill="#f4e5aa"/>
<rect x="40.01" y="246.17" width="3.31" height="10.37" fill="#7aadd6"/>
<rect x="43.93" y="246.17" width="3.31" height="10.37" fill="#7aadd6"/>
<rect x="47.84" y="246.17" width="3.31" height="10.37" fill="#7aadd6"/>
<rect x="51.76" y="246.17" width="3.31" height="10.37" fill="#f3a066"/>
<rect x="55.67" y="246.17" width="3.31" height="10.37" fill="#7aadd6"/>
<rect x="59.59" y="246.17" width="3.31" height="10.37" fill="#7aadd6"/>
<rect x="63.50" y="246.17" width="3.31" height="10.37" fill="#7aadd6"/>
<rect x="67.42" y="246.17" width="3.31" height="10.37" fill="#7aadd6"/>
<rect x="71.33" y="246.17" width="3.31" height="10.37" fill="#7aadd6"/>
<rect x="75.25" y="246.17" width="3.31" height="10.37" fill="#7aadd6"/>
<rect x="79.16" y="246.17" width="3.31" height="10.37" fill="#7aadd6"/>
<rect x="83.08" y="246.17" width="3.31" height="10.37" fill="#7aadd6"/>
<rect x="86.99" y="246.17" width="3.31" height="10.37" fill="#7aadd6"/>
<rect x="90.91" y="246.17" width="3.31" height="10.37" fill="#7aadd6"/>
<rect x="94.83" y="246.17" width="3.31" height="10.37" fill="#a6c8e1"/>
<rect x="98.74" y="246.17" width="3.31" height="10.37" fill="#7aadd6"/>
<rect x="102.66" y="246.17" width="3.31" height="10.37" fill="#f3a066"/>
<rect x="106.57" y="246.17" width="3.31" height="10.37" fill="#7aadd6"/>
<rect x="110.48" y="246.17" width="3.31" height="10.37" fill="#7aadd6"/>
<rect x="114.40" y="246.17" width="3.31" height="10.37" fill="#7aadd6"/>
<rect x="118.31" y="246.17" width="3.31" height="10.37" fill="#7aadd6"/>
<rect x="122.23" y="246.17" width="3.31" height="10.37" fill="#7aadd6"/>
<rect x="126.14" y="246.17" width="3.31" height="10.37" fill="#7aadd6"/>
<rect x="130.06" y="246.17" width="3.31" height="10.37" fill="#7aadd6"/>
<rect x="133.98" y="246.17" width="3.31" height="10.37" fill="#7aadd6"/>
<rect x="137.89" y="246.17" width="3.31" height="10.37" fill="#7aadd6"/>
<rect x="141.81" y="246.17" width="3.31" height="10.37" fill="#7aadd6"/>
<rect x="145.72" y="246.17" width="3.31" height="10.37" fill="#7aadd6"/>
<rect x="149.63" y="246.17" width="3.31" height="10.37" fill="#7aadd6"/>
<rect x="153.55" y="246.17" width="3.31" height="10.37" fill="#7aadd6"/>
<rect x="157.47" y="246.17" width="3.31" height="10.37" fill="#7aadd6"/>
<rect x="161.38" y="246.17" width="3.31" height="10.37" fill="#7aadd6"/>
<rect x="165.30" y="246.17" width="3.31" height="10.37" fill="#7aadd6"/>
<rect x="169.21" y="246.17" width="3.31" height="10.37" fill="#7aadd6"/>
<rect x="173.12" y="246.17" width="3.31" height="10.37" fill="#7aadd6"/>
<rect x="177.04" y="246.17" width="3.31" height="10.37" fill="#588dc5"/>
<rect x="180.95" y="246.17" width="3.31" height="10.37" fill="#7aadd6"/>
<rect x="184.87" y="246.17" width="3.31" height="10.37" fill="#7aadd6"/>
<rect x="188.79" y="246.17" width="3.31" height="10.37" fill="#7aadd6"/>
<rect x="192.70" y="246.17" width="3.31" height="10.37" fill="#f3a066"/>
<rect x="196.62" y="246.17" width="3.31" height="10.37" fill="#7aadd6"/>
<rect x="200.53" y="246.17" width="3.31" height="10.37" fill="#7aadd6"/>
<rect x="204.44" y="246.17" width="3.31" height="10.37" fill="#7aadd6"/>
<rect x="208.36" y="246.17" width="3.31" height="10.37" fill="#7aadd6"/>
<rect x="212.28" y="246.17" width="3.31" height="10.37" fill="#7aadd6"/>
<rect x="216.19" y="246.17" width="3.31" height="10.37" fill="#7aadd6"/>
<rect x="220.11" y="246.17" width="3.31" height="10.37" fill="#7aadd6"/>
<text x="33.40" y="265.23" font-size="7.00" text-anchor="end" font-weight="normal" fill="#111" >IGA</text>
<rect x="36.10" y="257.54" width="3.31" height="10.37" fill="#7aadd6"/>
<rect x="40.01" y="257.54" width="3.31" height="10.37" fill="#7aadd6"/>
<rect x="43.93" y="257.54" width="3.31" height="10.37" fill="#f4e5aa"/>
<rect x="47.84" y="257.54" width="3.31" height="10.37" fill="#a6c8e1"/>
<rect x="51.76" y="257.54" width="3.31" height="10.37" fill="#a6c8e1"/>
<rect x="55.67" y="257.54" width="3.31" height="10.37" fill="#7aadd6"/>
<rect x="59.59" y="257.54" width="3.31" height="10.37" fill="#588dc5"/>
<rect x="63.50" y="257.54" width="3.31" height="10.37" fill="#7aadd6"/>
<rect x="67.42" y="257.54" width="3.31" height="10.37" fill="#7aadd6"/>
<rect x="71.33" y="257.54" width="3.31" height="10.37" fill="#7aadd6"/>
<rect x="75.25" y="257.54" width="3.31" height="10.37" fill="#7aadd6"/>
<rect x="79.16" y="257.54" width="3.31" height="10.37" fill="#a6c8e1"/>
<rect x="83.08" y="257.54" width="3.31" height="10.37" fill="#588dc5"/>
<rect x="86.99" y="257.54" width="3.31" height="10.37" fill="#7aadd6"/>
<rect x="90.91" y="257.54" width="3.31" height="10.37" fill="#7aadd6"/>
<rect x="94.83" y="257.54" width="3.31" height="10.37" fill="#7aadd6"/>
<rect x="98.74" y="257.54" width="3.31" height="10.37" fill="#588dc5"/>
<rect x="102.66" y="257.54" width="3.31" height="10.37" fill="#7aadd6"/>
<rect x="106.57" y="257.54" width="3.31" height="10.37" fill="#588dc5"/>
<rect x="110.48" y="257.54" width="3.31" height="10.37" fill="#f4e5aa"/>
<rect x="114.40" y="257.54" width="3.31" height="10.37" fill="#d2dccf"/>
<rect x="118.31" y="257.54" width="3.31" height="10.37" fill="#a6c8e1"/>
<rect x="122.23" y="257.54" width="3.31" height="10.37" fill="#7aadd6"/>
<rect x="126.14" y="257.54" width="3.31" height="10.37" fill="#7aadd6"/>
<rect x="130.06" y="257.54" width="3.31" height="10.37" fill="#588dc5"/>
<rect x="133.98" y="257.54" width="3.31" height="10.37" fill="#7aadd6"/>
<rect x="137.89" y="257.54" width="3.31" height="10.37" fill="#7aadd6"/>
<rect x="141.81" y="257.54" width="3.31" height="10.37" fill="#7aadd6"/>
<rect x="145.72" y="257.54" width="3.31" height="10.37" fill="#588dc5"/>
<rect x="149.63" y="257.54" width="3.31" height="10.37" fill="#7aadd6"/>
<rect x="153.55" y="257.54" width="3.31" height="10.37" fill="#a6c8e1"/>
<rect x="157.47" y="257.54" width="3.31" height="10.37" fill="#588dc5"/>
<rect x="161.38" y="257.54" width="3.31" height="10.37" fill="#7aadd6"/>
<rect x="165.30" y="257.54" width="3.31" height="10.37" fill="#a6c8e1"/>
<rect x="169.21" y="257.54" width="3.31" height="10.37" fill="#588dc5"/>
<rect x="173.12" y="257.54" width="3.31" height="10.37" fill="#7aadd6"/>
<rect x="177.04" y="257.54" width="3.31" height="10.37" fill="#dc5a3e"/>
<rect x="180.95" y="257.54" width="3.31" height="10.37" fill="#a6c8e1"/>
<rect x="184.87" y="257.54" width="3.31" height="10.37" fill="#588dc5"/>
<rect x="188.79" y="257.54" width="3.31" height="10.37" fill="#d2dccf"/>
<rect x="192.70" y="257.54" width="3.31" height="10.37" fill="#7aadd6"/>
<rect x="196.62" y="257.54" width="3.31" height="10.37" fill="#f4e5aa"/>
<rect x="200.53" y="257.54" width="3.31" height="10.37" fill="#a6c8e1"/>
<rect x="204.44" y="257.54" width="3.31" height="10.37" fill="#588dc5"/>
<rect x="208.36" y="257.54" width="3.31" height="10.37" fill="#f4e5aa"/>
<rect x="212.28" y="257.54" width="3.31" height="10.37" fill="#588dc5"/>
<rect x="216.19" y="257.54" width="3.31" height="10.37" fill="#f4e5aa"/>
<rect x="220.11" y="257.54" width="3.31" height="10.37" fill="#d2dccf"/>
<text x="33.40" y="276.59" font-size="7.00" text-anchor="end" font-weight="normal" fill="#111" >Serotonin</text>
<rect x="36.10" y="268.91" width="3.31" height="10.37" fill="#a6c8e1"/>
<rect x="40.01" y="268.91" width="3.31" height="10.37" fill="#456db4"/>
<rect x="43.93" y="268.91" width="3.31" height="10.37" fill="#a6c8e1"/>
<rect x="47.84" y="268.91" width="3.31" height="10.37" fill="#a6c8e1"/>
<rect x="51.76" y="268.91" width="3.31" height="10.37" fill="#a6c8e1"/>
<rect x="55.67" y="268.91" width="3.31" height="10.37" fill="#7aadd6"/>
<rect x="59.59" y="268.91" width="3.31" height="10.37" fill="#a6c8e1"/>
<rect x="63.50" y="268.91" width="3.31" height="10.37" fill="#588dc5"/>
<rect x="67.42" y="268.91" width="3.31" height="10.37" fill="#a6c8e1"/>
<rect x="71.33" y="268.91" width="3.31" height="10.37" fill="#7aadd6"/>
<rect x="75.25" y="268.91" width="3.31" height="10.37" fill="#f4e5aa"/>
<rect x="79.16" y="268.91" width="3.31" height="10.37" fill="#588dc5"/>
<rect x="83.08" y="268.91" width="3.31" height="10.37" fill="#456db4"/>
<rect x="86.99" y="268.91" width="3.31" height="10.37" fill="#7aadd6"/>
<rect x="90.91" y="268.91" width="3.31" height="10.37" fill="#588dc5"/>
<rect x="94.83" y="268.91" width="3.31" height="10.37" fill="#7aadd6"/>
<rect x="98.74" y="268.91" width="3.31" height="10.37" fill="#a6c8e1"/>
<rect x="102.66" y="268.91" width="3.31" height="10.37" fill="#f4e5aa"/>
<rect x="106.57" y="268.91" width="3.31" height="10.37" fill="#588dc5"/>
<rect x="110.48" y="268.91" width="3.31" height="10.37" fill="#456db4"/>
<rect x="114.40" y="268.91" width="3.31" height="10.37" fill="#588dc5"/>
<rect x="118.31" y="268.91" width="3.31" height="10.37" fill="#456db4"/>
<rect x="122.23" y="268.91" width="3.31" height="10.37" fill="#f4e5aa"/>
<rect x="126.14" y="268.91" width="3.31" height="10.37" fill="#588dc5"/>
<rect x="130.06" y="268.91" width="3.31" height="10.37" fill="#588dc5"/>
<rect x="133.98" y="268.91" width="3.31" height="10.37" fill="#588dc5"/>
<rect x="137.89" y="268.91" width="3.31" height="10.37" fill="#7aadd6"/>
<rect x="141.81" y="268.91" width="3.31" height="10.37" fill="#588dc5"/>
<rect x="145.72" y="268.91" width="3.31" height="10.37" fill="#7aadd6"/>
<rect x="149.63" y="268.91" width="3.31" height="10.37" fill="#f4e5aa"/>
<rect x="153.55" y="268.91" width="3.31" height="10.37" fill="#a6c8e1"/>
<rect x="157.47" y="268.91" width="3.31" height="10.37" fill="#a6c8e1"/>
<rect x="161.38" y="268.91" width="3.31" height="10.37" fill="#456db4"/>
<rect x="165.30" y="268.91" width="3.31" height="10.37" fill="#a6c8e1"/>
<rect x="169.21" y="268.91" width="3.31" height="10.37" fill="#7aadd6"/>
<rect x="173.12" y="268.91" width="3.31" height="10.37" fill="#588dc5"/>
<rect x="177.04" y="268.91" width="3.31" height="10.37" fill="#f3a066"/>
<rect x="180.95" y="268.91" width="3.31" height="10.37" fill="#f9d28e"/>
<rect x="184.87" y="268.91" width="3.31" height="10.37" fill="#7aadd6"/>
<rect x="188.79" y="268.91" width="3.31" height="10.37" fill="#588dc5"/>
<rect x="192.70" y="268.91" width="3.31" height="10.37" fill="#f9d28e"/>
<rect x="196.62" y="268.91" width="3.31" height="10.37" fill="#7aadd6"/>
<rect x="200.53" y="268.91" width="3.31" height="10.37" fill="#f4e5aa"/>
<rect x="204.44" y="268.91" width="3.31" height="10.37" fill="#588dc5"/>
<rect x="208.36" y="268.91" width="3.31" height="10.37" fill="#456db4"/>
<rect x="212.28" y="268.91" width="3.31" height="10.37" fill="#588dc5"/>
<rect x="216.19" y="268.91" width="3.31" height="10.37" fill="#588dc5"/>
<rect x="220.11" y="268.91" width="3.31" height="10.37" fill="#d2dccf"/>
<text x="33.40" y="287.96" font-size="7.00" text-anchor="end" font-weight="normal" fill="#111" >5-HIAA</text>
<rect x="36.10" y="280.28" width="3.31" height="10.37" fill="#7aadd6"/>
<rect x="40.01" y="280.28" width="3.31" height="10.37" fill="#588dc5"/>
<rect x="43.93" y="280.28" width="3.31" height="10.37" fill="#7aadd6"/>
<rect x="47.84" y="280.28" width="3.31" height="10.37" fill="#7aadd6"/>
<rect x="51.76" y="280.28" width="3.31" height="10.37" fill="#588dc5"/>
<rect x="55.67" y="280.28" width="3.31" height="10.37" fill="#7aadd6"/>
<rect x="59.59" y="280.28" width="3.31" height="10.37" fill="#a6c8e1"/>
<rect x="63.50" y="280.28" width="3.31" height="10.37" fill="#588dc5"/>
<rect x="67.42" y="280.28" width="3.31" height="10.37" fill="#7aadd6"/>
<rect x="71.33" y="280.28" width="3.31" height="10.37" fill="#f4e5aa"/>
<rect x="75.25" y="280.28" width="3.31" height="10.37" fill="#7aadd6"/>
<rect x="79.16" y="280.28" width="3.31" height="10.37" fill="#456db4"/>
<rect x="83.08" y="280.28" width="3.31" height="10.37" fill="#588dc5"/>
<rect x="86.99" y="280.28" width="3.31" height="10.37" fill="#7aadd6"/>
<rect x="90.91" y="280.28" width="3.31" height="10.37" fill="#7aadd6"/>
<rect x="94.83" y="280.28" width="3.31" height="10.37" fill="#a6c8e1"/>
<rect x="98.74" y="280.28" width="3.31" height="10.37" fill="#456db4"/>
<rect x="102.66" y="280.28" width="3.31" height="10.37" fill="#456db4"/>
<rect x="106.57" y="280.28" width="3.31" height="10.37" fill="#f4e5aa"/>
<rect x="110.48" y="280.28" width="3.31" height="10.37" fill="#588dc5"/>
<rect x="114.40" y="280.28" width="3.31" height="10.37" fill="#588dc5"/>
<rect x="118.31" y="280.28" width="3.31" height="10.37" fill="#7aadd6"/>
<rect x="122.23" y="280.28" width="3.31" height="10.37" fill="#a6c8e1"/>
<rect x="126.14" y="280.28" width="3.31" height="10.37" fill="#588dc5"/>
<rect x="130.06" y="280.28" width="3.31" height="10.37" fill="#a6c8e1"/>
<rect x="133.98" y="280.28" width="3.31" height="10.37" fill="#7aadd6"/>
<rect x="137.89" y="280.28" width="3.31" height="10.37" fill="#588dc5"/>
<rect x="141.81" y="280.28" width="3.31" height="10.37" fill="#588dc5"/>
<rect x="145.72" y="280.28" width="3.31" height="10.37" fill="#f9d28e"/>
<rect x="149.63" y="280.28" width="3.31" height="10.37" fill="#588dc5"/>
<rect x="153.55" y="280.28" width="3.31" height="10.37" fill="#588dc5"/>
<rect x="157.47" y="280.28" width="3.31" height="10.37" fill="#588dc5"/>
<rect x="161.38" y="280.28" width="3.31" height="10.37" fill="#a6c8e1"/>
<rect x="165.30" y="280.28" width="3.31" height="10.37" fill="#7aadd6"/>
<rect x="169.21" y="280.28" width="3.31" height="10.37" fill="#dc5a3e"/>
<rect x="173.12" y="280.28" width="3.31" height="10.37" fill="#f4e5aa"/>
<rect x="177.04" y="280.28" width="3.31" height="10.37" fill="#7aadd6"/>
<rect x="180.95" y="280.28" width="3.31" height="10.37" fill="#588dc5"/>
<rect x="184.87" y="280.28" width="3.31" height="10.37" fill="#f9d28e"/>
<rect x="188.79" y="280.28" width="3.31" height="10.37" fill="#588dc5"/>
<rect x="192.70" y="280.28" width="3.31" height="10.37" fill="#a6c8e1"/>
<rect x="196.62" y="280.28" width="3.31" height="10.37" fill="#7aadd6"/>
<rect x="200.53" y="280.28" width="3.31" height="10.37" fill="#588dc5"/>
<rect x="204.44" y="280.28" width="3.31" height="10.37" fill="#d2dccf"/>
<rect x="208.36" y="280.28" width="3.31" height="10.37" fill="#7aadd6"/>
<rect x="212.28" y="280.28" width="3.31" height="10.37" fill="#a6c8e1"/>
<rect x="216.19" y="280.28" width="3.31" height="10.37" fill="#d2dccf"/>
<rect x="220.11" y="280.28" width="3.31" height="10.37" fill="#a6c8e1"/>
<text x="33.40" y="299.33" font-size="7.00" text-anchor="end" font-weight="normal" fill="#111" >5-HTP</text>
<rect x="36.10" y="291.65" width="3.31" height="10.37" fill="#a6c8e1"/>
<rect x="40.01" y="291.65" width="3.31" height="10.37" fill="#d2dccf"/>
<rect x="43.93" y="291.65" width="3.31" height="10.37" fill="#f3a066"/>
<rect x="47.84" y="291.65" width="3.31" height="10.37" fill="#588dc5"/>
<rect x="51.76" y="291.65" width="3.31" height="10.37" fill="#f4e5aa"/>
<rect x="55.67" y="291.65" width="3.31" height="10.37" fill="#f4e5aa"/>
<rect x="59.59" y="291.65" width="3.31" height="10.37" fill="#7aadd6"/>
<rect x="63.50" y="291.65" width="3.31" height="10.37" fill="#d2dccf"/>
<rect x="67.42" y="291.65" width="3.31" height="10.37" fill="#456db4"/>
<rect x="71.33" y="291.65" width="3.31" height="10.37" fill="#456db4"/>
<rect x="75.25" y="291.65" width="3.31" height="10.37" fill="#a6c8e1"/>
<rect x="79.16" y="291.65" width="3.31" height="10.37" fill="#d2dccf"/>
<rect x="83.08" y="291.65" width="3.31" height="10.37" fill="#456db4"/>
<rect x="86.99" y="291.65" width="3.31" height="10.37" fill="#f4e5aa"/>
<rect x="90.91" y="291.65" width="3.31" height="10.37" fill="#f4e5aa"/>
<rect x="94.83" y="291.65" width="3.31" height="10.37" fill="#588dc5"/>
<rect x="98.74" y="291.65" width="3.31" height="10.37" fill="#456db4"/>
<rect x="102.66" y="291.65" width="3.31" height="10.37" fill="#a6c8e1"/>
<rect x="106.57" y="291.65" width="3.31" height="10.37" fill="#d2dccf"/>
<rect x="110.48" y="291.65" width="3.31" height="10.37" fill="#a6c8e1"/>
<rect x="114.40" y="291.65" width="3.31" height="10.37" fill="#f4e5aa"/>
<rect x="118.31" y="291.65" width="3.31" height="10.37" fill="#d2dccf"/>
<rect x="122.23" y="291.65" width="3.31" height="10.37" fill="#a6c8e1"/>
<rect x="126.14" y="291.65" width="3.31" height="10.37" fill="#456db4"/>
<rect x="130.06" y="291.65" width="3.31" height="10.37" fill="#456db4"/>
<rect x="133.98" y="291.65" width="3.31" height="10.37" fill="#d2dccf"/>
<rect x="137.89" y="291.65" width="3.31" height="10.37" fill="#f4e5aa"/>
<rect x="141.81" y="291.65" width="3.31" height="10.37" fill="#d2dccf"/>
<rect x="145.72" y="291.65" width="3.31" height="10.37" fill="#f4e5aa"/>
<rect x="149.63" y="291.65" width="3.31" height="10.37" fill="#a6c8e1"/>
<rect x="153.55" y="291.65" width="3.31" height="10.37" fill="#a6c8e1"/>
<rect x="157.47" y="291.65" width="3.31" height="10.37" fill="#d2dccf"/>
<rect x="161.38" y="291.65" width="3.31" height="10.37" fill="#456db4"/>
<rect x="165.30" y="291.65" width="3.31" height="10.37" fill="#a6c8e1"/>
<rect x="169.21" y="291.65" width="3.31" height="10.37" fill="#456db4"/>
<rect x="173.12" y="291.65" width="3.31" height="10.37" fill="#456db4"/>
<rect x="177.04" y="291.65" width="3.31" height="10.37" fill="#7aadd6"/>
<rect x="180.95" y="291.65" width="3.31" height="10.37" fill="#a6c8e1"/>
<rect x="184.87" y="291.65" width="3.31" height="10.37" fill="#456db4"/>
<rect x="188.79" y="291.65" width="3.31" height="10.37" fill="#d2dccf"/>
<rect x="192.70" y="291.65" width="3.31" height="10.37" fill="#7aadd6"/>
<rect x="196.62" y="291.65" width="3.31" height="10.37" fill="#d2dccf"/>
<rect x="200.53" y="291.65" width="3.31" height="10.37" fill="#a6c8e1"/>
<rect x="204.44" y="291.65" width="3.31" height="10.37" fill="#d2dccf"/>
<rect x="208.36" y="291.65" width="3.31" height="10.37" fill="#456db4"/>
<rect x="212.28" y="291.65" width="3.31" height="10.37" fill="#456db4"/>
<rect x="216.19" y="291.65" width="3.31" height="10.37" fill="#7aadd6"/>
<rect x="220.11" y="291.65" width="3.31" height="10.37" fill="#d2dccf"/>
<text x="33.40" y="310.70" font-size="7.00" text-anchor="end" font-weight="normal" fill="#111" >KynA</text>
<rect x="36.10" y="303.02" width="3.31" height="10.37" fill="#7aadd6"/>
<rect x="40.01" y="303.02" width="3.31" height="10.37" fill="#a6c8e1"/>
<rect x="43.93" y="303.02" width="3.31" height="10.37" fill="#7aadd6"/>
<rect x="47.84" y="303.02" width="3.31" height="10.37" fill="#588dc5"/>
<rect x="51.76" y="303.02" width="3.31" height="10.37" fill="#f4e5aa"/>
<rect x="55.67" y="303.02" width="3.31" height="10.37" fill="#a6c8e1"/>
<rect x="59.59" y="303.02" width="3.31" height="10.37" fill="#456db4"/>
<rect x="63.50" y="303.02" width="3.31" height="10.37" fill="#588dc5"/>
<rect x="67.42" y="303.02" width="3.31" height="10.37" fill="#588dc5"/>
<rect x="71.33" y="303.02" width="3.31" height="10.37" fill="#588dc5"/>
<rect x="75.25" y="303.02" width="3.31" height="10.37" fill="#588dc5"/>
<rect x="79.16" y="303.02" width="3.31" height="10.37" fill="#588dc5"/>
<rect x="83.08" y="303.02" width="3.31" height="10.37" fill="#f4e5aa"/>
<rect x="86.99" y="303.02" width="3.31" height="10.37" fill="#588dc5"/>
<rect x="90.91" y="303.02" width="3.31" height="10.37" fill="#a6c8e1"/>
<rect x="94.83" y="303.02" width="3.31" height="10.37" fill="#588dc5"/>
<rect x="98.74" y="303.02" width="3.31" height="10.37" fill="#588dc5"/>
<rect x="102.66" y="303.02" width="3.31" height="10.37" fill="#588dc5"/>
<rect x="106.57" y="303.02" width="3.31" height="10.37" fill="#d2dccf"/>
<rect x="110.48" y="303.02" width="3.31" height="10.37" fill="#a6c8e1"/>
<rect x="114.40" y="303.02" width="3.31" height="10.37" fill="#f4e5aa"/>
<rect x="118.31" y="303.02" width="3.31" height="10.37" fill="#f4e5aa"/>
<rect x="122.23" y="303.02" width="3.31" height="10.37" fill="#588dc5"/>
<rect x="126.14" y="303.02" width="3.31" height="10.37" fill="#588dc5"/>
<rect x="130.06" y="303.02" width="3.31" height="10.37" fill="#588dc5"/>
<rect x="133.98" y="303.02" width="3.31" height="10.37" fill="#a6c8e1"/>
<rect x="137.89" y="303.02" width="3.31" height="10.37" fill="#7aadd6"/>
<rect x="141.81" y="303.02" width="3.31" height="10.37" fill="#588dc5"/>
<rect x="145.72" y="303.02" width="3.31" height="10.37" fill="#7aadd6"/>
<rect x="149.63" y="303.02" width="3.31" height="10.37" fill="#588dc5"/>
<rect x="153.55" y="303.02" width="3.31" height="10.37" fill="#7aadd6"/>
<rect x="157.47" y="303.02" width="3.31" height="10.37" fill="#d2dccf"/>
<rect x="161.38" y="303.02" width="3.31" height="10.37" fill="#7aadd6"/>
<rect x="165.30" y="303.02" width="3.31" height="10.37" fill="#f4e5aa"/>
<rect x="169.21" y="303.02" width="3.31" height="10.37" fill="#456db4"/>
<rect x="173.12" y="303.02" width="3.31" height="10.37" fill="#588dc5"/>
<rect x="177.04" y="303.02" width="3.31" height="10.37" fill="#f9d28e"/>
<rect x="180.95" y="303.02" width="3.31" height="10.37" fill="#7aadd6"/>
<rect x="184.87" y="303.02" width="3.31" height="10.37" fill="#588dc5"/>
<rect x="188.79" y="303.02" width="3.31" height="10.37" fill="#f4e5aa"/>
<rect x="192.70" y="303.02" width="3.31" height="10.37" fill="#d2dccf"/>
<rect x="196.62" y="303.02" width="3.31" height="10.37" fill="#a6c8e1"/>
<rect x="200.53" y="303.02" width="3.31" height="10.37" fill="#d2dccf"/>
<rect x="204.44" y="303.02" width="3.31" height="10.37" fill="#7aadd6"/>
<rect x="208.36" y="303.02" width="3.31" height="10.37" fill="#f3a066"/>
<rect x="212.28" y="303.02" width="3.31" height="10.37" fill="#588dc5"/>
<rect x="216.19" y="303.02" width="3.31" height="10.37" fill="#f4e5aa"/>
<rect x="220.11" y="303.02" width="3.31" height="10.37" fill="#f4e5aa"/>
<text x="33.40" y="322.07" font-size="7.00" text-anchor="end" font-weight="normal" fill="#111" >QUIN</text>
<rect x="36.10" y="314.38" width="3.31" height="10.37" fill="#f4e5aa"/>
<rect x="40.01" y="314.38" width="3.31" height="10.37" fill="#7aadd6"/>
<rect x="43.93" y="314.38" width="3.31" height="10.37" fill="#a6c8e1"/>
<rect x="47.84" y="314.38" width="3.31" height="10.37" fill="#7aadd6"/>
<rect x="51.76" y="314.38" width="3.31" height="10.37" fill="#a6c8e1"/>
<rect x="55.67" y="314.38" width="3.31" height="10.37" fill="#456db4"/>
<rect x="59.59" y="314.38" width="3.31" height="10.37" fill="#d2dccf"/>
<rect x="63.50" y="314.38" width="3.31" height="10.37" fill="#7aadd6"/>
<rect x="67.42" y="314.38" width="3.31" height="10.37" fill="#f4e5aa"/>
<rect x="71.33" y="314.38" width="3.31" height="10.37" fill="#f3a066"/>
<rect x="75.25" y="314.38" width="3.31" height="10.37" fill="#f4e5aa"/>
<rect x="79.16" y="314.38" width="3.31" height="10.37" fill="#7aadd6"/>
<rect x="83.08" y="314.38" width="3.31" height="10.37" fill="#d2dccf"/>
<rect x="86.99" y="314.38" width="3.31" height="10.37" fill="#7aadd6"/>
<rect x="90.91" y="314.38" width="3.31" height="10.37" fill="#456db4"/>
<rect x="94.83" y="314.38" width="3.31" height="10.37" fill="#f4e5aa"/>
<rect x="98.74" y="314.38" width="3.31" height="10.37" fill="#7aadd6"/>
<rect x="102.66" y="314.38" width="3.31" height="10.37" fill="#7aadd6"/>
<rect x="106.57" y="314.38" width="3.31" height="10.37" fill="#7aadd6"/>
<rect x="110.48" y="314.38" width="3.31" height="10.37" fill="#7aadd6"/>
<rect x="114.40" y="314.38" width="3.31" height="10.37" fill="#f4e5aa"/>
<rect x="118.31" y="314.38" width="3.31" height="10.37" fill="#d2dccf"/>
<rect x="122.23" y="314.38" width="3.31" height="10.37" fill="#f4e5aa"/>
<rect x="126.14" y="314.38" width="3.31" height="10.37" fill="#588dc5"/>
<rect x="130.06" y="314.38" width="3.31" height="10.37" fill="#588dc5"/>
<rect x="133.98" y="314.38" width="3.31" height="10.37" fill="#7aadd6"/>
<rect x="137.89" y="314.38" width="3.31" height="10.37" fill="#7aadd6"/>
<rect x="141.81" y="314.38" width="3.31" height="10.37" fill="#d2dccf"/>
<rect x="145.72" y="314.38" width="3.31" height="10.37" fill="#588dc5"/>
<rect x="149.63" y="314.38" width="3.31" height="10.37" fill="#588dc5"/>
<rect x="153.55" y="314.38" width="3.31" height="10.37" fill="#7aadd6"/>
<rect x="157.47" y="314.38" width="3.31" height="10.37" fill="#588dc5"/>
<rect x="161.38" y="314.38" width="3.31" height="10.37" fill="#f4e5aa"/>
<rect x="165.30" y="314.38" width="3.31" height="10.37" fill="#588dc5"/>
<rect x="169.21" y="314.38" width="3.31" height="10.37" fill="#f4e5aa"/>
<rect x="173.12" y="314.38" width="3.31" height="10.37" fill="#588dc5"/>
<rect x="177.04" y="314.38" width="3.31" height="10.37" fill="#7aadd6"/>
<rect x="180.95" y="314.38" width="3.31" height="10.37" fill="#456db4"/>
<rect x="184.87" y="314.38" width="3.31" height="10.37" fill="#456db4"/>
<rect x="188.79" y="314.38" width="3.31" height="10.37" fill="#588dc5"/>
<rect x="192.70" y="314.38" width="3.31" height="10.37" fill="#588dc5"/>
<rect x="196.62" y="314.38" width="3.31" height="10.37" fill="#7aadd6"/>
<rect x="200.53" y="314.38" width="3.31" height="10.37" fill="#456db4"/>
<rect x="204.44" y="314.38" width="3.31" height="10.37" fill="#d2dccf"/>
<rect x="208.36" y="314.38" width="3.31" height="10.37" fill="#456db4"/>
<rect x="212.28" y="314.38" width="3.31" height="10.37" fill="#456db4"/>
<rect x="216.19" y="314.38" width="3.31" height="10.37" fill="#456db4"/>
<rect x="220.11" y="314.38" width="3.31" height="10.37" fill="#456db4"/>
<text x="33.40" y="333.44" font-size="7.00" text-anchor="end" font-weight="normal" fill="#111" >XA</text>
<rect x="36.10" y="325.75" width="3.31" height="10.37" fill="#588dc5"/>
<rect x="40.01" y="325.75" width="3.31" height="10.37" fill="#7aadd6"/>
<rect x="43.93" y="325.75" width="3.31" height="10.37" fill="#456db4"/>
<rect x="47.84" y="325.75" width="3.31" height="10.37" fill="#7aadd6"/>
<rect x="51.76" y="325.75" width="3.31" height="10.37" fill="#7aadd6"/>
<rect x="55.67" y="325.75" width="3.31" height="10.37" fill="#588dc5"/>
<rect x="59.59" y="325.75" width="3.31" height="10.37" fill="#456db4"/>
<rect x="63.50" y="325.75" width="3.31" height="10.37" fill="#588dc5"/>
<rect x="67.42" y="325.75" width="3.31" height="10.37" fill="#a6c8e1"/>
<rect x="71.33" y="325.75" width="3.31" height="10.37" fill="#588dc5"/>
<rect x="75.25" y="325.75" width="3.31" height="10.37" fill="#7aadd6"/>
<rect x="79.16" y="325.75" width="3.31" height="10.37" fill="#588dc5"/>
<rect x="83.08" y="325.75" width="3.31" height="10.37" fill="#2f419a"/>
<rect x="86.99" y="325.75" width="3.31" height="10.37" fill="#7aadd6"/>
<rect x="90.91" y="325.75" width="3.31" height="10.37" fill="#456db4"/>
<rect x="94.83" y="325.75" width="3.31" height="10.37" fill="#7aadd6"/>
<rect x="98.74" y="325.75" width="3.31" height="10.37" fill="#588dc5"/>
<rect x="102.66" y="325.75" width="3.31" height="10.37" fill="#7aadd6"/>
<rect x="106.57" y="325.75" width="3.31" height="10.37" fill="#7aadd6"/>
<rect x="110.48" y="325.75" width="3.31" height="10.37" fill="#7aadd6"/>
<rect x="114.40" y="325.75" width="3.31" height="10.37" fill="#7aadd6"/>
<rect x="118.31" y="325.75" width="3.31" height="10.37" fill="#588dc5"/>
<rect x="122.23" y="325.75" width="3.31" height="10.37" fill="#456db4"/>
<rect x="126.14" y="325.75" width="3.31" height="10.37" fill="#588dc5"/>
<rect x="130.06" y="325.75" width="3.31" height="10.37" fill="#7aadd6"/>
<rect x="133.98" y="325.75" width="3.31" height="10.37" fill="#7aadd6"/>
<rect x="137.89" y="325.75" width="3.31" height="10.37" fill="#a6c8e1"/>
<rect x="141.81" y="325.75" width="3.31" height="10.37" fill="#d2dccf"/>
<rect x="145.72" y="325.75" width="3.31" height="10.37" fill="#a6c8e1"/>
<rect x="149.63" y="325.75" width="3.31" height="10.37" fill="#f9d28e"/>
<rect x="153.55" y="325.75" width="3.31" height="10.37" fill="#f9d28e"/>
<rect x="157.47" y="325.75" width="3.31" height="10.37" fill="#a6c8e1"/>
<rect x="161.38" y="325.75" width="3.31" height="10.37" fill="#588dc5"/>
<rect x="165.30" y="325.75" width="3.31" height="10.37" fill="#7aadd6"/>
<rect x="169.21" y="325.75" width="3.31" height="10.37" fill="#a6c8e1"/>
<rect x="173.12" y="325.75" width="3.31" height="10.37" fill="#7aadd6"/>
<rect x="177.04" y="325.75" width="3.31" height="10.37" fill="#f4e5aa"/>
<rect x="180.95" y="325.75" width="3.31" height="10.37" fill="#f4e5aa"/>
<rect x="184.87" y="325.75" width="3.31" height="10.37" fill="#a6c8e1"/>
<rect x="188.79" y="325.75" width="3.31" height="10.37" fill="#7aadd6"/>
<rect x="192.70" y="325.75" width="3.31" height="10.37" fill="#d2dccf"/>
<rect x="196.62" y="325.75" width="3.31" height="10.37" fill="#7aadd6"/>
<rect x="200.53" y="325.75" width="3.31" height="10.37" fill="#f4e5aa"/>
<rect x="204.44" y="325.75" width="3.31" height="10.37" fill="#7aadd6"/>
<rect x="208.36" y="325.75" width="3.31" height="10.37" fill="#f3a066"/>
<rect x="212.28" y="325.75" width="3.31" height="10.37" fill="#a6c8e1"/>
<rect x="216.19" y="325.75" width="3.31" height="10.37" fill="#7aadd6"/>
<rect x="220.11" y="325.75" width="3.31" height="10.37" fill="#f4e5aa"/>
<text x="33.40" y="344.81" font-size="7.00" text-anchor="end" font-weight="normal" fill="#111" >N-Acid</text>
<rect x="36.10" y="337.12" width="3.31" height="10.37" fill="#d2dccf"/>
<rect x="40.01" y="337.12" width="3.31" height="10.37" fill="#588dc5"/>
<rect x="43.93" y="337.12" width="3.31" height="10.37" fill="#588dc5"/>
<rect x="47.84" y="337.12" width="3.31" height="10.37" fill="#7aadd6"/>
<rect x="51.76" y="337.12" width="3.31" height="10.37" fill="#7aadd6"/>
<rect x="55.67" y="337.12" width="3.31" height="10.37" fill="#7aadd6"/>
<rect x="59.59" y="337.12" width="3.31" height="10.37" fill="#588dc5"/>
<rect x="63.50" y="337.12" width="3.31" height="10.37" fill="#588dc5"/>
<rect x="67.42" y="337.12" width="3.31" height="10.37" fill="#588dc5"/>
<rect x="71.33" y="337.12" width="3.31" height="10.37" fill="#f4e5aa"/>
<rect x="75.25" y="337.12" width="3.31" height="10.37" fill="#7aadd6"/>
<rect x="79.16" y="337.12" width="3.31" height="10.37" fill="#588dc5"/>
<rect x="83.08" y="337.12" width="3.31" height="10.37" fill="#456db4"/>
<rect x="86.99" y="337.12" width="3.31" height="10.37" fill="#588dc5"/>
<rect x="90.91" y="337.12" width="3.31" height="10.37" fill="#456db4"/>
<rect x="94.83" y="337.12" width="3.31" height="10.37" fill="#588dc5"/>
<rect x="98.74" y="337.12" width="3.31" height="10.37" fill="#588dc5"/>
<rect x="102.66" y="337.12" width="3.31" height="10.37" fill="#588dc5"/>
<rect x="106.57" y="337.12" width="3.31" height="10.37" fill="#f9d28e"/>
<rect x="110.48" y="337.12" width="3.31" height="10.37" fill="#588dc5"/>
<rect x="114.40" y="337.12" width="3.31" height="10.37" fill="#588dc5"/>
<rect x="118.31" y="337.12" width="3.31" height="10.37" fill="#588dc5"/>
<rect x="122.23" y="337.12" width="3.31" height="10.37" fill="#456db4"/>
<rect x="126.14" y="337.12" width="3.31" height="10.37" fill="#588dc5"/>
<rect x="130.06" y="337.12" width="3.31" height="10.37" fill="#7aadd6"/>
<rect x="133.98" y="337.12" width="3.31" height="10.37" fill="#588dc5"/>
<rect x="137.89" y="337.12" width="3.31" height="10.37" fill="#a6c8e1"/>
<rect x="141.81" y="337.12" width="3.31" height="10.37" fill="#588dc5"/>
<rect x="145.72" y="337.12" width="3.31" height="10.37" fill="#a6c8e1"/>
<rect x="149.63" y="337.12" width="3.31" height="10.37" fill="#7aadd6"/>
<rect x="153.55" y="337.12" width="3.31" height="10.37" fill="#456db4"/>
<rect x="157.47" y="337.12" width="3.31" height="10.37" fill="#588dc5"/>
<rect x="161.38" y="337.12" width="3.31" height="10.37" fill="#d2dccf"/>
<rect x="165.30" y="337.12" width="3.31" height="10.37" fill="#456db4"/>
<rect x="169.21" y="337.12" width="3.31" height="10.37" fill="#7aadd6"/>
<rect x="173.12" y="337.12" width="3.31" height="10.37" fill="#7aadd6"/>
<rect x="177.04" y="337.12" width="3.31" height="10.37" fill="#f4e5aa"/>
<rect x="180.95" y="337.12" width="3.31" height="10.37" fill="#d2dccf"/>
<rect x="184.87" y="337.12" width="3.31" height="10.37" fill="#f4e5aa"/>
<rect x="188.79" y="337.12" width="3.31" height="10.37" fill="#7aadd6"/>
<rect x="192.70" y="337.12" width="3.31" height="10.37" fill="#d2dccf"/>
<rect x="196.62" y="337.12" width="3.31" height="10.37" fill="#7aadd6"/>
<rect x="200.53" y="337.12" width="3.31" height="10.37" fill="#f3a066"/>
<rect x="204.44" y="337.12" width="3.31" height="10.37" fill="#d2dccf"/>
<rect x="208.36" y="337.12" width="3.31" height="10.37" fill="#f3a066"/>
<rect x="212.28" y="337.12" width="3.31" height="10.37" fill="#7aadd6"/>
<rect x="216.19" y="337.12" width="3.31" height="10.37" fill="#a6c8e1"/>
<rect x="220.11" y="337.12" width="3.31" height="10.37" fill="#7aadd6"/>
<text x="33.40" y="356.17" font-size="7.00" text-anchor="end" font-weight="normal" fill="#111" >Pico</text>
<rect x="36.10" y="348.49" width="3.31" height="10.37" fill="#f4e5aa"/>
<rect x="40.01" y="348.49" width="3.31" height="10.37" fill="#7aadd6"/>
<rect x="43.93" y="348.49" width="3.31" height="10.37" fill="#7aadd6"/>
<rect x="47.84" y="348.49" width="3.31" height="10.37" fill="#a6c8e1"/>
<rect x="51.76" y="348.49" width="3.31" height="10.37" fill="#f4e5aa"/>
<rect x="55.67" y="348.49" width="3.31" height="10.37" fill="#f4e5aa"/>
<rect x="59.59" y="348.49" width="3.31" height="10.37" fill="#a6c8e1"/>
<rect x="63.50" y="348.49" width="3.31" height="10.37" fill="#7aadd6"/>
<rect x="67.42" y="348.49" width="3.31" height="10.37" fill="#588dc5"/>
<rect x="71.33" y="348.49" width="3.31" height="10.37" fill="#d2dccf"/>
<rect x="75.25" y="348.49" width="3.31" height="10.37" fill="#588dc5"/>
<rect x="79.16" y="348.49" width="3.31" height="10.37" fill="#7aadd6"/>
<rect x="83.08" y="348.49" width="3.31" height="10.37" fill="#456db4"/>
<rect x="86.99" y="348.49" width="3.31" height="10.37" fill="#a6c8e1"/>
<rect x="90.91" y="348.49" width="3.31" height="10.37" fill="#588dc5"/>
<rect x="94.83" y="348.49" width="3.31" height="10.37" fill="#7aadd6"/>
<rect x="98.74" y="348.49" width="3.31" height="10.37" fill="#588dc5"/>
<rect x="102.66" y="348.49" width="3.31" height="10.37" fill="#7aadd6"/>
<rect x="106.57" y="348.49" width="3.31" height="10.37" fill="#f4e5aa"/>
<rect x="110.48" y="348.49" width="3.31" height="10.37" fill="#7aadd6"/>
<rect x="114.40" y="348.49" width="3.31" height="10.37" fill="#588dc5"/>
<rect x="118.31" y="348.49" width="3.31" height="10.37" fill="#a6c8e1"/>
<rect x="122.23" y="348.49" width="3.31" height="10.37" fill="#588dc5"/>
<rect x="126.14" y="348.49" width="3.31" height="10.37" fill="#a6c8e1"/>
<rect x="130.06" y="348.49" width="3.31" height="10.37" fill="#f4e5aa"/>
<rect x="133.98" y="348.49" width="3.31" height="10.37" fill="#588dc5"/>
<rect x="137.89" y="348.49" width="3.31" height="10.37" fill="#7aadd6"/>
<rect x="141.81" y="348.49" width="3.31" height="10.37" fill="#588dc5"/>
<rect x="145.72" y="348.49" width="3.31" height="10.37" fill="#7aadd6"/>
<rect x="149.63" y="348.49" width="3.31" height="10.37" fill="#588dc5"/>
<rect x="153.55" y="348.49" width="3.31" height="10.37" fill="#7aadd6"/>
<rect x="157.47" y="348.49" width="3.31" height="10.37" fill="#588dc5"/>
<rect x="161.38" y="348.49" width="3.31" height="10.37" fill="#7aadd6"/>
<rect x="165.30" y="348.49" width="3.31" height="10.37" fill="#588dc5"/>
<rect x="169.21" y="348.49" width="3.31" height="10.37" fill="#588dc5"/>
<rect x="173.12" y="348.49" width="3.31" height="10.37" fill="#588dc5"/>
<rect x="177.04" y="348.49" width="3.31" height="10.37" fill="#7aadd6"/>
<rect x="180.95" y="348.49" width="3.31" height="10.37" fill="#a6c8e1"/>
<rect x="184.87" y="348.49" width="3.31" height="10.37" fill="#7aadd6"/>
<rect x="188.79" y="348.49" width="3.31" height="10.37" fill="#d2dccf"/>
<rect x="192.70" y="348.49" width="3.31" height="10.37" fill="#588dc5"/>
<rect x="196.62" y="348.49" width="3.31" height="10.37" fill="#7aadd6"/>
<rect x="200.53" y="348.49" width="3.31" height="10.37" fill="#dc5a3e"/>
<rect x="204.44" y="348.49" width="3.31" height="10.37" fill="#a6c8e1"/>
<rect x="208.36" y="348.49" width="3.31" height="10.37" fill="#f4e5aa"/>
<rect x="212.28" y="348.49" width="3.31" height="10.37" fill="#588dc5"/>
<rect x="216.19" y="348.49" width="3.31" height="10.37" fill="#588dc5"/>
<rect x="220.11" y="348.49" width="3.31" height="10.37" fill="#f4e5aa"/>
<text x="33.40" y="367.54" font-size="7.00" text-anchor="end" font-weight="normal" fill="#111" >CA</text>
<rect x="36.10" y="359.86" width="3.31" height="10.37" fill="#588dc5"/>
<rect x="40.01" y="359.86" width="3.31" height="10.37" fill="#2f419a"/>
<rect x="43.93" y="359.86" width="3.31" height="10.37" fill="#588dc5"/>
<rect x="47.84" y="359.86" width="3.31" height="10.37" fill="#7aadd6"/>
<rect x="51.76" y="359.86" width="3.31" height="10.37" fill="#588dc5"/>
<rect x="55.67" y="359.86" width="3.31" height="10.37" fill="#7aadd6"/>
<rect x="59.59" y="359.86" width="3.31" height="10.37" fill="#588dc5"/>
<rect x="63.50" y="359.86" width="3.31" height="10.37" fill="#7aadd6"/>
<rect x="67.42" y="359.86" width="3.31" height="10.37" fill="#7aadd6"/>
<rect x="71.33" y="359.86" width="3.31" height="10.37" fill="#7aadd6"/>
<rect x="75.25" y="359.86" width="3.31" height="10.37" fill="#7aadd6"/>
<rect x="79.16" y="359.86" width="3.31" height="10.37" fill="#588dc5"/>
<rect x="83.08" y="359.86" width="3.31" height="10.37" fill="#588dc5"/>
<rect x="86.99" y="359.86" width="3.31" height="10.37" fill="#588dc5"/>
<rect x="90.91" y="359.86" width="3.31" height="10.37" fill="#588dc5"/>
<rect x="94.83" y="359.86" width="3.31" height="10.37" fill="#7aadd6"/>
<rect x="98.74" y="359.86" width="3.31" height="10.37" fill="#d2dccf"/>
<rect x="102.66" y="359.86" width="3.31" height="10.37" fill="#a6c8e1"/>
<rect x="106.57" y="359.86" width="3.31" height="10.37" fill="#588dc5"/>
<rect x="110.48" y="359.86" width="3.31" height="10.37" fill="#7aadd6"/>
<rect x="114.40" y="359.86" width="3.31" height="10.37" fill="#a6c8e1"/>
<rect x="118.31" y="359.86" width="3.31" height="10.37" fill="#7aadd6"/>
<rect x="122.23" y="359.86" width="3.31" height="10.37" fill="#588dc5"/>
<rect x="126.14" y="359.86" width="3.31" height="10.37" fill="#588dc5"/>
<rect x="130.06" y="359.86" width="3.31" height="10.37" fill="#7aadd6"/>
<rect x="133.98" y="359.86" width="3.31" height="10.37" fill="#a6c8e1"/>
<rect x="137.89" y="359.86" width="3.31" height="10.37" fill="#f9d28e"/>
<rect x="141.81" y="359.86" width="3.31" height="10.37" fill="#d2dccf"/>
<rect x="145.72" y="359.86" width="3.31" height="10.37" fill="#f4e5aa"/>
<rect x="149.63" y="359.86" width="3.31" height="10.37" fill="#d2dccf"/>
<rect x="153.55" y="359.86" width="3.31" height="10.37" fill="#f4e5aa"/>
<rect x="157.47" y="359.86" width="3.31" height="10.37" fill="#7aadd6"/>
<rect x="161.38" y="359.86" width="3.31" height="10.37" fill="#d2dccf"/>
<rect x="165.30" y="359.86" width="3.31" height="10.37" fill="#7aadd6"/>
<rect x="169.21" y="359.86" width="3.31" height="10.37" fill="#d2dccf"/>
<rect x="173.12" y="359.86" width="3.31" height="10.37" fill="#7aadd6"/>
<rect x="177.04" y="359.86" width="3.31" height="10.37" fill="#a6c8e1"/>
<rect x="180.95" y="359.86" width="3.31" height="10.37" fill="#f4e5aa"/>
<rect x="184.87" y="359.86" width="3.31" height="10.37" fill="#f4e5aa"/>
<rect x="188.79" y="359.86" width="3.31" height="10.37" fill="#7aadd6"/>
<rect x="192.70" y="359.86" width="3.31" height="10.37" fill="#d2dccf"/>
<rect x="196.62" y="359.86" width="3.31" height="10.37" fill="#a6c8e1"/>
<rect x="200.53" y="359.86" width="3.31" height="10.37" fill="#7aadd6"/>
<rect x="204.44" y="359.86" width="3.31" height="10.37" fill="#f4e5aa"/>
<rect x="208.36" y="359.86" width="3.31" height="10.37" fill="#588dc5"/>
<rect x="212.28" y="359.86" width="3.31" height="10.37" fill="#f4e5aa"/>
<rect x="216.19" y="359.86" width="3.31" height="10.37" fill="#f4e5aa"/>
<rect x="220.11" y="359.86" width="3.31" height="10.37" fill="#588dc5"/>
<text x="33.40" y="378.91" font-size="7.00" text-anchor="end" font-weight="normal" fill="#111" >Kyn</text>
<rect x="36.10" y="371.23" width="3.31" height="10.37" fill="#d2dccf"/>
<rect x="40.01" y="371.23" width="3.31" height="10.37" fill="#7aadd6"/>
<rect x="43.93" y="371.23" width="3.31" height="10.37" fill="#7aadd6"/>
<rect x="47.84" y="371.23" width="3.31" height="10.37" fill="#588dc5"/>
<rect x="51.76" y="371.23" width="3.31" height="10.37" fill="#a6c8e1"/>
<rect x="55.67" y="371.23" width="3.31" height="10.37" fill="#7aadd6"/>
<rect x="59.59" y="371.23" width="3.31" height="10.37" fill="#7aadd6"/>
<rect x="63.50" y="371.23" width="3.31" height="10.37" fill="#d2dccf"/>
<rect x="67.42" y="371.23" width="3.31" height="10.37" fill="#588dc5"/>
<rect x="71.33" y="371.23" width="3.31" height="10.37" fill="#a6c8e1"/>
<rect x="75.25" y="371.23" width="3.31" height="10.37" fill="#7aadd6"/>
<rect x="79.16" y="371.23" width="3.31" height="10.37" fill="#7aadd6"/>
<rect x="83.08" y="371.23" width="3.31" height="10.37" fill="#d2dccf"/>
<rect x="86.99" y="371.23" width="3.31" height="10.37" fill="#7aadd6"/>
<rect x="90.91" y="371.23" width="3.31" height="10.37" fill="#456db4"/>
<rect x="94.83" y="371.23" width="3.31" height="10.37" fill="#f4e5aa"/>
<rect x="98.74" y="371.23" width="3.31" height="10.37" fill="#7aadd6"/>
<rect x="102.66" y="371.23" width="3.31" height="10.37" fill="#a6c8e1"/>
<rect x="106.57" y="371.23" width="3.31" height="10.37" fill="#f4e5aa"/>
<rect x="110.48" y="371.23" width="3.31" height="10.37" fill="#588dc5"/>
<rect x="114.40" y="371.23" width="3.31" height="10.37" fill="#d2dccf"/>
<rect x="118.31" y="371.23" width="3.31" height="10.37" fill="#588dc5"/>
<rect x="122.23" y="371.23" width="3.31" height="10.37" fill="#f4e5aa"/>
<rect x="126.14" y="371.23" width="3.31" height="10.37" fill="#588dc5"/>
<rect x="130.06" y="371.23" width="3.31" height="10.37" fill="#588dc5"/>
<rect x="133.98" y="371.23" width="3.31" height="10.37" fill="#7aadd6"/>
<rect x="137.89" y="371.23" width="3.31" height="10.37" fill="#d2dccf"/>
<rect x="141.81" y="371.23" width="3.31" height="10.37" fill="#588dc5"/>
<rect x="145.72" y="371.23" width="3.31" height="10.37" fill="#588dc5"/>
<rect x="149.63" y="371.23" width="3.31" height="10.37" fill="#7aadd6"/>
<rect x="153.55" y="371.23" width="3.31" height="10.37" fill="#a6c8e1"/>
<rect x="157.47" y="371.23" width="3.31" height="10.37" fill="#7aadd6"/>
<rect x="161.38" y="371.23" width="3.31" height="10.37" fill="#a6c8e1"/>
<rect x="165.30" y="371.23" width="3.31" height="10.37" fill="#7aadd6"/>
<rect x="169.21" y="371.23" width="3.31" height="10.37" fill="#588dc5"/>
<rect x="173.12" y="371.23" width="3.31" height="10.37" fill="#588dc5"/>
<rect x="177.04" y="371.23" width="3.31" height="10.37" fill="#f4e5aa"/>
<rect x="180.95" y="371.23" width="3.31" height="10.37" fill="#7aadd6"/>
<rect x="184.87" y="371.23" width="3.31" height="10.37" fill="#a6c8e1"/>
<rect x="188.79" y="371.23" width="3.31" height="10.37" fill="#f9d28e"/>
<rect x="192.70" y="371.23" width="3.31" height="10.37" fill="#7aadd6"/>
<rect x="196.62" y="371.23" width="3.31" height="10.37" fill="#7aadd6"/>
<rect x="200.53" y="371.23" width="3.31" height="10.37" fill="#a6c8e1"/>
<rect x="204.44" y="371.23" width="3.31" height="10.37" fill="#d2dccf"/>
<rect x="208.36" y="371.23" width="3.31" height="10.37" fill="#f3a066"/>
<rect x="212.28" y="371.23" width="3.31" height="10.37" fill="#a6c8e1"/>
<rect x="216.19" y="371.23" width="3.31" height="10.37" fill="#588dc5"/>
<rect x="220.11" y="371.23" width="3.31" height="10.37" fill="#d2dccf"/>
<text x="33.40" y="390.28" font-size="7.00" text-anchor="end" font-weight="normal" fill="#111" >NFK</text>
<rect x="36.10" y="382.59" width="3.31" height="10.37" fill="#588dc5"/>
<rect x="40.01" y="382.59" width="3.31" height="10.37" fill="#588dc5"/>
<rect x="43.93" y="382.59" width="3.31" height="10.37" fill="#7aadd6"/>
<rect x="47.84" y="382.59" width="3.31" height="10.37" fill="#d2dccf"/>
<rect x="51.76" y="382.59" width="3.31" height="10.37" fill="#a6c8e1"/>
<rect x="55.67" y="382.59" width="3.31" height="10.37" fill="#7aadd6"/>
<rect x="59.59" y="382.59" width="3.31" height="10.37" fill="#588dc5"/>
<rect x="63.50" y="382.59" width="3.31" height="10.37" fill="#d2dccf"/>
<rect x="67.42" y="382.59" width="3.31" height="10.37" fill="#7aadd6"/>
<rect x="71.33" y="382.59" width="3.31" height="10.37" fill="#7aadd6"/>
<rect x="75.25" y="382.59" width="3.31" height="10.37" fill="#f4e5aa"/>
<rect x="79.16" y="382.59" width="3.31" height="10.37" fill="#7aadd6"/>
<rect x="83.08" y="382.59" width="3.31" height="10.37" fill="#d2dccf"/>
<rect x="86.99" y="382.59" width="3.31" height="10.37" fill="#7aadd6"/>
<rect x="90.91" y="382.59" width="3.31" height="10.37" fill="#a6c8e1"/>
<rect x="94.83" y="382.59" width="3.31" height="10.37" fill="#7aadd6"/>
<rect x="98.74" y="382.59" width="3.31" height="10.37" fill="#588dc5"/>
<rect x="102.66" y="382.59" width="3.31" height="10.37" fill="#f4e5aa"/>
<rect x="106.57" y="382.59" width="3.31" height="10.37" fill="#588dc5"/>
<rect x="110.48" y="382.59" width="3.31" height="10.37" fill="#588dc5"/>
<rect x="114.40" y="382.59" width="3.31" height="10.37" fill="#7aadd6"/>
<rect x="118.31" y="382.59" width="3.31" height="10.37" fill="#588dc5"/>
<rect x="122.23" y="382.59" width="3.31" height="10.37" fill="#a6c8e1"/>
<rect x="126.14" y="382.59" width="3.31" height="10.37" fill="#7aadd6"/>
<rect x="130.06" y="382.59" width="3.31" height="10.37" fill="#588dc5"/>
<rect x="133.98" y="382.59" width="3.31" height="10.37" fill="#7aadd6"/>
<rect x="137.89" y="382.59" width="3.31" height="10.37" fill="#d2dccf"/>
<rect x="141.81" y="382.59" width="3.31" height="10.37" fill="#588dc5"/>
<rect x="145.72" y="382.59" width="3.31" height="10.37" fill="#588dc5"/>
<rect x="149.63" y="382.59" width="3.31" height="10.37" fill="#a6c8e1"/>
<rect x="153.55" y="382.59" width="3.31" height="10.37" fill="#f9d28e"/>
<rect x="157.47" y="382.59" width="3.31" height="10.37" fill="#7aadd6"/>
<rect x="161.38" y="382.59" width="3.31" height="10.37" fill="#a6c8e1"/>
<rect x="165.30" y="382.59" width="3.31" height="10.37" fill="#588dc5"/>
<rect x="169.21" y="382.59" width="3.31" height="10.37" fill="#7aadd6"/>
<rect x="173.12" y="382.59" width="3.31" height="10.37" fill="#588dc5"/>
<rect x="177.04" y="382.59" width="3.31" height="10.37" fill="#d2dccf"/>
<rect x="180.95" y="382.59" width="3.31" height="10.37" fill="#a6c8e1"/>
<rect x="184.87" y="382.59" width="3.31" height="10.37" fill="#7aadd6"/>
<rect x="188.79" y="382.59" width="3.31" height="10.37" fill="#7aadd6"/>
<rect x="192.70" y="382.59" width="3.31" height="10.37" fill="#a6c8e1"/>
<rect x="196.62" y="382.59" width="3.31" height="10.37" fill="#a6c8e1"/>
<rect x="200.53" y="382.59" width="3.31" height="10.37" fill="#dc5a3e"/>
<rect x="204.44" y="382.59" width="3.31" height="10.37" fill="#7aadd6"/>
<rect x="208.36" y="382.59" width="3.31" height="10.37" fill="#a6c8e1"/>
<rect x="212.28" y="382.59" width="3.31" height="10.37" fill="#d2dccf"/>
<rect x="216.19" y="382.59" width="3.31" height="10.37" fill="#f4e5aa"/>
<rect x="220.11" y="382.59" width="3.31" height="10.37" fill="#a6c8e1"/>
<text x="33.40" y="401.65" font-size="7.00" text-anchor="end" font-weight="normal" fill="#111" >3-HAA</text>
<rect x="36.10" y="393.96" width="3.31" height="10.37" fill="#f4e5aa"/>
<rect x="40.01" y="393.96" width="3.31" height="10.37" fill="#588dc5"/>
<rect x="43.93" y="393.96" width="3.31" height="10.37" fill="#7aadd6"/>
<rect x="47.84" y="393.96" width="3.31" height="10.37" fill="#588dc5"/>
<rect x="51.76" y="393.96" width="3.31" height="10.37" fill="#f4e5aa"/>
<rect x="55.67" y="393.96" width="3.31" height="10.37" fill="#7aadd6"/>
<rect x="59.59" y="393.96" width="3.31" height="10.37" fill="#588dc5"/>
<rect x="63.50" y="393.96" width="3.31" height="10.37" fill="#d2dccf"/>
<rect x="67.42" y="393.96" width="3.31" height="10.37" fill="#d2dccf"/>
<rect x="71.33" y="393.96" width="3.31" height="10.37" fill="#588dc5"/>
<rect x="75.25" y="393.96" width="3.31" height="10.37" fill="#588dc5"/>
<rect x="79.16" y="393.96" width="3.31" height="10.37" fill="#7aadd6"/>
<rect x="83.08" y="393.96" width="3.31" height="10.37" fill="#f4e5aa"/>
<rect x="86.99" y="393.96" width="3.31" height="10.37" fill="#a6c8e1"/>
<rect x="90.91" y="393.96" width="3.31" height="10.37" fill="#588dc5"/>
<rect x="94.83" y="393.96" width="3.31" height="10.37" fill="#588dc5"/>
<rect x="98.74" y="393.96" width="3.31" height="10.37" fill="#588dc5"/>
<rect x="102.66" y="393.96" width="3.31" height="10.37" fill="#d2dccf"/>
<rect x="106.57" y="393.96" width="3.31" height="10.37" fill="#f4e5aa"/>
<rect x="110.48" y="393.96" width="3.31" height="10.37" fill="#f4e5aa"/>
<rect x="114.40" y="393.96" width="3.31" height="10.37" fill="#7aadd6"/>
<rect x="118.31" y="393.96" width="3.31" height="10.37" fill="#f4e5aa"/>
<rect x="122.23" y="393.96" width="3.31" height="10.37" fill="#588dc5"/>
<rect x="126.14" y="393.96" width="3.31" height="10.37" fill="#7aadd6"/>
<rect x="130.06" y="393.96" width="3.31" height="10.37" fill="#7aadd6"/>
<rect x="133.98" y="393.96" width="3.31" height="10.37" fill="#d2dccf"/>
<rect x="137.89" y="393.96" width="3.31" height="10.37" fill="#f4e5aa"/>
<rect x="141.81" y="393.96" width="3.31" height="10.37" fill="#a6c8e1"/>
<rect x="145.72" y="393.96" width="3.31" height="10.37" fill="#588dc5"/>
<rect x="149.63" y="393.96" width="3.31" height="10.37" fill="#f9d28e"/>
<rect x="153.55" y="393.96" width="3.31" height="10.37" fill="#a6c8e1"/>
<rect x="157.47" y="393.96" width="3.31" height="10.37" fill="#d2dccf"/>
<rect x="161.38" y="393.96" width="3.31" height="10.37" fill="#588dc5"/>
<rect x="165.30" y="393.96" width="3.31" height="10.37" fill="#7aadd6"/>
<rect x="169.21" y="393.96" width="3.31" height="10.37" fill="#588dc5"/>
<rect x="173.12" y="393.96" width="3.31" height="10.37" fill="#588dc5"/>
<rect x="177.04" y="393.96" width="3.31" height="10.37" fill="#a6c8e1"/>
<rect x="180.95" y="393.96" width="3.31" height="10.37" fill="#a6c8e1"/>
<rect x="184.87" y="393.96" width="3.31" height="10.37" fill="#588dc5"/>
<rect x="188.79" y="393.96" width="3.31" height="10.37" fill="#588dc5"/>
<rect x="192.70" y="393.96" width="3.31" height="10.37" fill="#588dc5"/>
<rect x="196.62" y="393.96" width="3.31" height="10.37" fill="#7aadd6"/>
<rect x="200.53" y="393.96" width="3.31" height="10.37" fill="#f3a066"/>
<rect x="204.44" y="393.96" width="3.31" height="10.37" fill="#a6c8e1"/>
<rect x="208.36" y="393.96" width="3.31" height="10.37" fill="#588dc5"/>
<rect x="212.28" y="393.96" width="3.31" height="10.37" fill="#7aadd6"/>
<rect x="216.19" y="393.96" width="3.31" height="10.37" fill="#d2dccf"/>
<rect x="220.11" y="393.96" width="3.31" height="10.37" fill="#f4e5aa"/>
<text x="33.40" y="413.02" font-size="7.00" text-anchor="end" font-weight="normal" fill="#111" >Trp</text>
<rect x="36.10" y="405.33" width="3.31" height="10.37" fill="#7aadd6"/>
<rect x="40.01" y="405.33" width="3.31" height="10.37" fill="#a6c8e1"/>
<rect x="43.93" y="405.33" width="3.31" height="10.37" fill="#588dc5"/>
<rect x="47.84" y="405.33" width="3.31" height="10.37" fill="#7aadd6"/>
<rect x="51.76" y="405.33" width="3.31" height="10.37" fill="#588dc5"/>
<rect x="55.67" y="405.33" width="3.31" height="10.37" fill="#7aadd6"/>
<rect x="59.59" y="405.33" width="3.31" height="10.37" fill="#7aadd6"/>
<rect x="63.50" y="405.33" width="3.31" height="10.37" fill="#588dc5"/>
<rect x="67.42" y="405.33" width="3.31" height="10.37" fill="#d2dccf"/>
<rect x="71.33" y="405.33" width="3.31" height="10.37" fill="#a6c8e1"/>
<rect x="75.25" y="405.33" width="3.31" height="10.37" fill="#588dc5"/>
<rect x="79.16" y="405.33" width="3.31" height="10.37" fill="#588dc5"/>
<rect x="83.08" y="405.33" width="3.31" height="10.37" fill="#456db4"/>
<rect x="86.99" y="405.33" width="3.31" height="10.37" fill="#7aadd6"/>
<rect x="90.91" y="405.33" width="3.31" height="10.37" fill="#456db4"/>
<rect x="94.83" y="405.33" width="3.31" height="10.37" fill="#7aadd6"/>
<rect x="98.74" y="405.33" width="3.31" height="10.37" fill="#588dc5"/>
<rect x="102.66" y="405.33" width="3.31" height="10.37" fill="#7aadd6"/>
<rect x="106.57" y="405.33" width="3.31" height="10.37" fill="#7aadd6"/>
<rect x="110.48" y="405.33" width="3.31" height="10.37" fill="#588dc5"/>
<rect x="114.40" y="405.33" width="3.31" height="10.37" fill="#588dc5"/>
<rect x="118.31" y="405.33" width="3.31" height="10.37" fill="#456db4"/>
<rect x="122.23" y="405.33" width="3.31" height="10.37" fill="#7aadd6"/>
<rect x="126.14" y="405.33" width="3.31" height="10.37" fill="#7aadd6"/>
<rect x="130.06" y="405.33" width="3.31" height="10.37" fill="#a6c8e1"/>
<rect x="133.98" y="405.33" width="3.31" height="10.37" fill="#7aadd6"/>
<rect x="137.89" y="405.33" width="3.31" height="10.37" fill="#d2dccf"/>
<rect x="141.81" y="405.33" width="3.31" height="10.37" fill="#7aadd6"/>
<rect x="145.72" y="405.33" width="3.31" height="10.37" fill="#a6c8e1"/>
<rect x="149.63" y="405.33" width="3.31" height="10.37" fill="#f9d28e"/>
<rect x="153.55" y="405.33" width="3.31" height="10.37" fill="#f4e5aa"/>
<rect x="157.47" y="405.33" width="3.31" height="10.37" fill="#d2dccf"/>
<rect x="161.38" y="405.33" width="3.31" height="10.37" fill="#7aadd6"/>
<rect x="165.30" y="405.33" width="3.31" height="10.37" fill="#7aadd6"/>
<rect x="169.21" y="405.33" width="3.31" height="10.37" fill="#d2dccf"/>
<rect x="173.12" y="405.33" width="3.31" height="10.37" fill="#7aadd6"/>
<rect x="177.04" y="405.33" width="3.31" height="10.37" fill="#f4e5aa"/>
<rect x="180.95" y="405.33" width="3.31" height="10.37" fill="#f4e5aa"/>
<rect x="184.87" y="405.33" width="3.31" height="10.37" fill="#d2dccf"/>
<rect x="188.79" y="405.33" width="3.31" height="10.37" fill="#f4e5aa"/>
<rect x="192.70" y="405.33" width="3.31" height="10.37" fill="#7aadd6"/>
<rect x="196.62" y="405.33" width="3.31" height="10.37" fill="#d2dccf"/>
<rect x="200.53" y="405.33" width="3.31" height="10.37" fill="#7aadd6"/>
<rect x="204.44" y="405.33" width="3.31" height="10.37" fill="#d2dccf"/>
<rect x="208.36" y="405.33" width="3.31" height="10.37" fill="#f4e5aa"/>
<rect x="212.28" y="405.33" width="3.31" height="10.37" fill="#d2dccf"/>
<rect x="216.19" y="405.33" width="3.31" height="10.37" fill="#d2dccf"/>
<rect x="220.11" y="405.33" width="3.31" height="10.37" fill="#f4e5aa"/>
<rect x="223.92" y="200.20" width="2.9" height="68.21" fill="#5b3a9b"/>
<rect x="223.92" y="268.41" width="2.9" height="34.11" fill="#3a9e5b"/>
<rect x="223.92" y="302.52" width="2.9" height="102.32" fill="#dcc23c"/>
<rect x="223.92" y="404.83" width="2.9" height="11.87" fill="#c8283c"/>
<rect x="35.80" y="416.4" width="113.53" height="4.7" fill="#e41a1c"/>
<rect x="149.33" y="416.4" width="74.59" height="4.7" fill="#57b830"/>
<text x="35.60" y="428.40" font-size="5.60" text-anchor="start" font-weight="bold" fill="#222" >Group</text>
<text transform="translate(232.8,415.4) rotate(-90)" font-size="5.1" font-weight="bold" fill="#222">Trp metabolic pathways</text>
<defs><linearGradient id="gv" x1="0" x2="1" y1="0" y2="0"><stop offset="0" stop-color="#36459c"/><stop offset="0.2" stop-color="#5a8fc5"/><stop offset="0.38" stop-color="#b5d6e6"/><stop offset="0.5" stop-color="#fbf0b0"/><stop offset="0.68" stop-color="#f9a763"/><stop offset="0.85" stop-color="#de4a35"/><stop offset="1" stop-color="#a51b2d"/></linearGradient>
<linearGradient id="gp" x1="0" x2="0" y1="0" y2="1"><stop offset="0" stop-color="#fbe3a0"/><stop offset="0.3" stop-color="#f7b45e"/><stop offset="0.6" stop-color="#e45a33"/><stop offset="0.85" stop-color="#b3202a"/><stop offset="1" stop-color="#7d1220"/></linearGradient></defs>
<text x="83.40" y="454.00" font-size="6.90" text-anchor="start" font-weight="bold" fill="#111" >Value</text>
<rect x="105" y="443.2" width="64.5" height="6" fill="url(#gv)"/>
<text x="109.40" y="458.20" font-size="5.60" text-anchor="middle" font-weight="normal" fill="#333" >-2</text>
<text x="123.50" y="458.20" font-size="5.60" text-anchor="middle" font-weight="normal" fill="#333" >0</text>
<text x="137.60" y="458.20" font-size="5.60" text-anchor="middle" font-weight="normal" fill="#333" >2</text>
<text x="151.70" y="458.20" font-size="5.60" text-anchor="middle" font-weight="normal" fill="#333" >4</text>
<text x="165.80" y="458.20" font-size="5.60" text-anchor="middle" font-weight="normal" fill="#333" >6</text>
<rect x="240.4" y="199.5" width="94.0" height="217.4" fill="#fff" stroke="#777" stroke-width="0.9"/>
<line x1="240.6" y1="205.88" x2="334" y2="205.88" stroke="#e2e2e2" stroke-width="0.9"/>
<line x1="240.6" y1="217.25" x2="334" y2="217.25" stroke="#e2e2e2" stroke-width="0.9"/>
<line x1="240.6" y1="228.62" x2="334" y2="228.62" stroke="#e2e2e2" stroke-width="0.9"/>
<line x1="240.6" y1="239.99" x2="334" y2="239.99" stroke="#e2e2e2" stroke-width="0.9"/>
<line x1="240.6" y1="251.36" x2="334" y2="251.36" stroke="#e2e2e2" stroke-width="0.9"/>
<line x1="240.6" y1="262.73" x2="334" y2="262.73" stroke="#e2e2e2" stroke-width="0.9"/>
<line x1="240.6" y1="274.09" x2="334" y2="274.09" stroke="#e2e2e2" stroke-width="0.9"/>
<line x1="240.6" y1="285.46" x2="334" y2="285.46" stroke="#e2e2e2" stroke-width="0.9"/>
<line x1="240.6" y1="296.83" x2="334" y2="296.83" stroke="#e2e2e2" stroke-width="0.9"/>
<line x1="240.6" y1="308.20" x2="334" y2="308.20" stroke="#e2e2e2" stroke-width="0.9"/>
<line x1="240.6" y1="319.57" x2="334" y2="319.57" stroke="#e2e2e2" stroke-width="0.9"/>
<line x1="240.6" y1="330.94" x2="334" y2="330.94" stroke="#e2e2e2" stroke-width="0.9"/>
<line x1="240.6" y1="342.31" x2="334" y2="342.31" stroke="#e2e2e2" stroke-width="0.9"/>
<line x1="240.6" y1="353.67" x2="334" y2="353.67" stroke="#e2e2e2" stroke-width="0.9"/>
<line x1="240.6" y1="365.04" x2="334" y2="365.04" stroke="#e2e2e2" stroke-width="0.9"/>
<line x1="240.6" y1="376.41" x2="334" y2="376.41" stroke="#e2e2e2" stroke-width="0.9"/>
<line x1="240.6" y1="387.78" x2="334" y2="387.78" stroke="#e2e2e2" stroke-width="0.9"/>
<line x1="240.6" y1="399.15" x2="334" y2="399.15" stroke="#e2e2e2" stroke-width="0.9"/>
<line x1="240.6" y1="410.52" x2="334" y2="410.52" stroke="#e2e2e2" stroke-width="0.9"/>
<circle cx="287.3" cy="205.88" r="0.82" fill="#3a1018" stroke="#2e0a12" stroke-width="1.0"/>
<circle cx="287.3" cy="217.25" r="2.54" fill="#fbe9a6" stroke="#2e0a12" stroke-width="1.0"/>
<circle cx="287.3" cy="228.62" r="1.56" fill="#7a111f" stroke="#2e0a12" stroke-width="1.0"/>
<circle cx="287.3" cy="239.99" r="1.89" fill="#7a111f" stroke="#2e0a12" stroke-width="1.0"/>
<circle cx="287.3" cy="251.36" r="2.54" fill="#fbe3a0" stroke="#2e0a12" stroke-width="1.0"/>
<circle cx="287.3" cy="262.73" r="2.05" fill="#e98a5e" stroke="#2e0a12" stroke-width="1.0"/>
<circle cx="287.3" cy="274.09" r="1.89" fill="#7a111f" stroke="#2e0a12" stroke-width="1.0"/>
<circle cx="287.3" cy="285.46" r="2.05" fill="#7a111f" stroke="#2e0a12" stroke-width="1.0"/>
<circle cx="287.3" cy="296.83" r="2.62" fill="#7a111f" stroke="#2e0a12" stroke-width="1.0"/>
<circle cx="287.3" cy="308.20" r="2.05" fill="#7a111f" stroke="#2e0a12" stroke-width="1.0"/>
<circle cx="287.3" cy="319.57" r="2.62" fill="#7a111f" stroke="#2e0a12" stroke-width="1.0"/>
<circle cx="287.3" cy="330.94" r="1.89" fill="#7a111f" stroke="#2e0a12" stroke-width="1.0"/>
<circle cx="287.3" cy="342.31" r="2.05" fill="#7a111f" stroke="#2e0a12" stroke-width="1.0"/>
<circle cx="287.3" cy="353.67" r="1.97" fill="#f09a5e" stroke="#2e0a12" stroke-width="1.0"/>
<circle cx="287.3" cy="365.04" r="1.89" fill="#7a111f" stroke="#2e0a12" stroke-width="1.0"/>
<circle cx="287.3" cy="376.41" r="2.05" fill="#7a111f" stroke="#2e0a12" stroke-width="1.0"/>
<circle cx="287.3" cy="387.78" r="1.89" fill="#7a111f" stroke="#2e0a12" stroke-width="1.0"/>
<circle cx="287.3" cy="399.15" r="2.30" fill="#fbe4b4" stroke="#2e0a12" stroke-width="1.0"/>
<circle cx="287.3" cy="410.52" r="1.89" fill="#7a111f" stroke="#2e0a12" stroke-width="1.0"/>
<text x="289.40" y="425.70" font-size="7.00" text-anchor="middle" font-weight="normal" fill="#2a2a2a" >RA vs. HC</text>
<text x="344.20" y="207.80" font-size="6.70" text-anchor="start" font-weight="bold" fill="#111" >Group</text>
<rect x="344.4" y="210.1" width="8.3" height="8.7" fill="#e41a1c"/>
<rect x="344.4" y="219.2" width="8.3" height="8.8" fill="#57b830"/>
<text x="355.20" y="216.70" font-size="6.00" text-anchor="start" font-weight="normal" fill="#444" >RA</text>
<text x="355.20" y="226.10" font-size="6.00" text-anchor="start" font-weight="normal" fill="#444" >HC</text>
<text x="344.3" y="238.4" font-size="6.5" font-weight="bold" fill="#111" textLength="70" lengthAdjust="spacingAndGlyphs">Trp metabolic pathways</text>
<rect x="344.4" y="241.20" width="8.3" height="8.9" fill="#c8283c"/>
<text x="355.20" y="247.80" font-size="6.05" text-anchor="start" font-weight="normal" fill="#444" >Trp</text>
<rect x="344.4" y="250.53" width="8.3" height="8.9" fill="#dcc23c"/>
<text x="355.20" y="257.13" font-size="6.05" text-anchor="start" font-weight="normal" fill="#444" >Trp−Kyn pathway</text>
<rect x="344.4" y="259.86" width="8.3" height="8.9" fill="#3a9e5b"/>
<text x="355.20" y="266.46" font-size="6.05" text-anchor="start" font-weight="normal" fill="#444" >Trp-5-HT pathway</text>
<rect x="344.4" y="269.19" width="8.3" height="8.9" fill="#5b3a9b"/>
<text x="355.20" y="275.79" font-size="6.05" text-anchor="start" font-weight="normal" fill="#444" >Trp-indole pathway</text>
<text x="345.00" y="302.70" font-size="6.80" text-anchor="start" font-weight="bold" fill="#111" >log2FC</text>
<circle cx="349.4" cy="312.40" r="1.20" fill="#fff" stroke="#222" stroke-width="0.9"/>
<text x="356.80" y="314.40" font-size="5.50" text-anchor="start" font-weight="normal" fill="#555" >−1.0</text>
<circle cx="349.4" cy="320.10" r="1.90" fill="#fff" stroke="#222" stroke-width="0.9"/>
<text x="356.80" y="322.10" font-size="5.50" text-anchor="start" font-weight="normal" fill="#555" >−0.5</text>
<circle cx="349.4" cy="328.10" r="2.60" fill="#fff" stroke="#222" stroke-width="0.9"/>
<text x="356.80" y="330.10" font-size="5.50" text-anchor="start" font-weight="normal" fill="#555" >0.0</text>
<text x="345.00" y="348.20" font-size="6.80" text-anchor="start" font-weight="bold" fill="#111" >Pvalue</text>
<rect x="345.9" y="353.5" width="7.4" height="39.3" fill="url(#gp)"/>
<text x="356.80" y="365.10" font-size="5.50" text-anchor="start" font-weight="normal" fill="#555" >0.6</text>
<text x="356.80" y="375.20" font-size="5.50" text-anchor="start" font-weight="normal" fill="#555" >0.4</text>
<text x="356.80" y="385.60" font-size="5.50" text-anchor="start" font-weight="normal" fill="#555" >0.2</text>
<text x="422.00" y="188.00" font-size="12.60" text-anchor="start" font-weight="normal" fill="#111" >E</text>
<rect x="455.1" y="195.9" width="266.2" height="226.2" fill="#fff" stroke="#a8a8a8" stroke-width="1.1"/>
<line x1="556.20" y1="196.6" x2="556.20" y2="421.6" stroke="#333" stroke-width="0.9" stroke-dasharray="1.8 2"/>
<line x1="619.70" y1="196.6" x2="619.70" y2="421.6" stroke="#333" stroke-width="0.9" stroke-dasharray="1.8 2"/>
<line x1="455.7" y1="359.3" x2="720.8" y2="359.3" stroke="#333" stroke-width="0.9" stroke-dasharray="1.8 2"/>
<text x="466.40" y="428.90" font-size="5.60" text-anchor="middle" font-weight="normal" fill="#444" >−1.0</text>
<text x="527.10" y="428.90" font-size="5.60" text-anchor="middle" font-weight="normal" fill="#444" >−0.5</text>
<text x="587.70" y="428.90" font-size="5.60" text-anchor="middle" font-weight="normal" fill="#444" >0.0</text>
<text x="648.40" y="428.90" font-size="5.60" text-anchor="middle" font-weight="normal" fill="#444" >0.5</text>
<text x="709.10" y="428.90" font-size="5.60" text-anchor="middle" font-weight="normal" fill="#444" >1.0</text>
<text x="452.00" y="221.90" font-size="5.60" text-anchor="end" font-weight="normal" fill="#444" >6</text>
<text x="452.00" y="287.00" font-size="5.60" text-anchor="end" font-weight="normal" fill="#444" >4</text>
<text x="452.00" y="352.40" font-size="5.60" text-anchor="end" font-weight="normal" fill="#444" >2</text>
<text x="452.00" y="417.60" font-size="5.60" text-anchor="end" font-weight="normal" fill="#444" >0</text>
<text x="588.20" y="443.20" font-size="8.60" text-anchor="middle" font-weight="bold" fill="#111" >log2(FC)</text>
<text transform="translate(438.1,308.6) rotate(-90)" font-size="8.7" font-weight="bold" text-anchor="middle" fill="#111">−log10(pVal)</text>
<circle cx="542.2" cy="361.4" r="2.5" fill="#b2b2b2"/>
<circle cx="607.6" cy="352.6" r="2.5" fill="#b2b2b2"/>
<circle cx="523.6" cy="385.6" r="2.5" fill="#b2b2b2"/>
<circle cx="528.0" cy="381.5" r="2.5" fill="#b2b2b2"/>
<circle cx="541.6" cy="392.5" r="2.5" fill="#b2b2b2"/>
<circle cx="530.3" cy="400.7" r="2.5" fill="#b2b2b2"/>
<circle cx="528.0" cy="403.0" r="2.5" fill="#b2b2b2"/>
<circle cx="567.4" cy="410.8" r="2.5" fill="#b2b2b2"/>
<circle cx="581.5" cy="411.9" r="2.5" fill="#b2b2b2"/>
<circle cx="613.4" cy="411.9" r="2.5" fill="#b2b2b2"/>
<circle cx="644.0" cy="383.8" r="2.5" fill="#b2b2b2"/>
<circle cx="520.4" cy="205.6" r="3.8" fill="#8cc7a3"/>
<circle cx="520.4" cy="205.6" r="1.7" fill="#2f7a50"/>
<circle cx="520.0" cy="249.2" r="3.8" fill="#8cc7a3"/>
<circle cx="520.0" cy="249.2" r="1.7" fill="#2f7a50"/>
<circle cx="530.2" cy="315.2" r="3.8" fill="#8cc7a3"/>
<circle cx="530.2" cy="315.2" r="1.7" fill="#2f7a50"/>
<circle cx="534.4" cy="328.2" r="3.8" fill="#8cc7a3"/>
<circle cx="534.4" cy="328.2" r="1.7" fill="#2f7a50"/>
<circle cx="553.4" cy="327.6" r="3.8" fill="#8cc7a3"/>
<circle cx="553.4" cy="327.6" r="1.7" fill="#2f7a50"/>
<circle cx="490.4" cy="346.4" r="3.8" fill="#8cc7a3"/>
<circle cx="490.4" cy="346.4" r="1.7" fill="#2f7a50"/>
<circle cx="551.4" cy="358.2" r="3.8" fill="#8cc7a3"/>
<circle cx="551.4" cy="358.2" r="1.7" fill="#2f7a50"/>
<line x1="523.5" y1="205.6" x2="526.3" y2="205.6" stroke="#222" stroke-width="0.7"/>
<text x="526.60" y="209.20" font-size="10.20" text-anchor="start" font-weight="normal" fill="#111" >Trp</text>
<line x1="520.8" y1="247.6" x2="526.2" y2="239.6" stroke="#222" stroke-width="0.7"/>
<text x="525.40" y="242.80" font-size="10.20" text-anchor="start" font-weight="normal" fill="#111" >XA</text>
<line x1="529.4" y1="313.6" x2="524.6" y2="305.4" stroke="#222" stroke-width="0.7"/>
<text x="524.40" y="307.00" font-size="10.20" text-anchor="end" font-weight="normal" fill="#111" >CA</text>
<line x1="533.6" y1="329.8" x2="530.6" y2="334.6" stroke="#222" stroke-width="0.7"/>
<text x="534.20" y="342.00" font-size="10.20" text-anchor="end" font-weight="normal" fill="#111" >KynA</text>
<line x1="556.2" y1="327.6" x2="559.0" y2="327.6" stroke="#222" stroke-width="0.7"/>
<text x="559.40" y="331.40" font-size="10.20" text-anchor="start" font-weight="normal" fill="#111" >N−Acid</text>
<line x1="489.6" y1="347.8" x2="485.6" y2="353.6" stroke="#222" stroke-width="0.7"/>
<text x="490.40" y="361.40" font-size="10.20" text-anchor="end" font-weight="normal" fill="#111" >ICAld</text>
<line x1="552.2" y1="356.6" x2="556.2" y2="349.0" stroke="#222" stroke-width="0.7"/>
<text x="555.20" y="352.20" font-size="10.20" text-anchor="start" font-weight="normal" fill="#111" >Kyn</text>
<text x="726.8" y="294.4" font-size="8.1" font-weight="bold" fill="#111" textLength="45.4" lengthAdjust="spacingAndGlyphs">Significant</text>
<circle cx="731.6" cy="306.3" r="1.6" fill="#c23e5c"/>
<text x="740.20" y="309.30" font-size="8.75" text-anchor="start" font-weight="normal" fill="#222" >Sig.Up (0)</text>
<circle cx="731.6" cy="315.2" r="1.6" fill="#b0b0b0"/>
<text x="740.20" y="318.20" font-size="8.75" text-anchor="start" font-weight="normal" fill="#222" >No Diff (12)</text>
<circle cx="731.6" cy="324.4" r="1.6" fill="#4d7564"/>
<text x="740.20" y="327.40" font-size="8.75" text-anchor="start" font-weight="normal" fill="#222" >Sig.Down (7)</text>
<text transform="translate(0,453) skewX(-14)" style="font-family:'Noto Serif CJK SC','Noto Sans CJK SC',serif;font-weight:900" font-size="26" fill="#16409c" x="684.3 716.6 743.2" y="0" stroke="#16409c" stroke-width="0.9" stroke-linejoin="round">山医大</text>
</svg></body></html>
